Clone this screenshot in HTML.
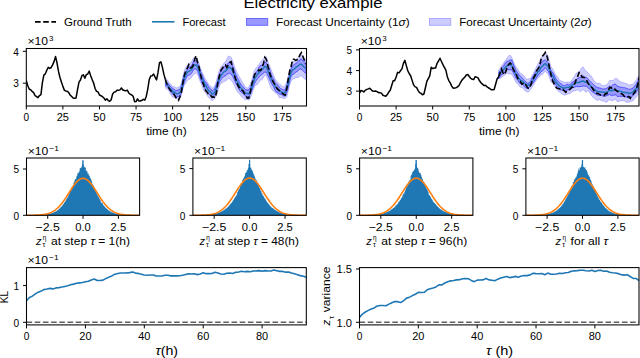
<!DOCTYPE html>
<html><head><meta charset="utf-8"><style>
html,body{margin:0;padding:0;background:#fff;width:640px;height:358px;overflow:hidden}
svg{display:block}
text{font-family:"Liberation Sans", sans-serif;fill:#000}
</style></head><body>
<svg width="640" height="358" viewBox="0 0 640 358">
<rect width="640" height="358" fill="#fff"/>
<text x="243.5" y="8.3" font-size="15" text-anchor="start" textLength="139" lengthAdjust="spacingAndGlyphs" >Electricity example</text>
<line x1="35" y1="21.9" x2="56" y2="21.9" stroke="#000" stroke-width="1.6" stroke-dasharray="5.6 2.6"/>
<text x="64" y="25.6" font-size="11" text-anchor="start" textLength="67.6" lengthAdjust="spacingAndGlyphs" >Ground Truth</text>
<line x1="152" y1="21.8" x2="174.5" y2="21.8" stroke="#1f77b4" stroke-width="1.6"/>
<text x="182.4" y="25.6" font-size="11" text-anchor="start" textLength="43.2" lengthAdjust="spacingAndGlyphs" >Forecast</text>
<rect x="246.5" y="18.5" width="21.2" height="6.8" fill="#9999ff" stroke="#6b6bff" stroke-width="1"/>
<text x="276" y="25.6" font-size="11" text-anchor="start" textLength="133.6" lengthAdjust="spacingAndGlyphs" >Forecast Uncertainty (1<tspan font-style="italic">σ</tspan>)</text>
<rect x="429.5" y="18.5" width="21.2" height="6.8" fill="#ccccff" stroke="#aaaaff" stroke-width="1"/>
<text x="459.2" y="25.6" font-size="11" text-anchor="start" textLength="132.4" lengthAdjust="spacingAndGlyphs" >Forecast Uncertainty (2<tspan font-style="italic">σ</tspan>)</text>
<defs><clipPath id="c26"><rect x="26.3" y="48.5" width="280.2" height="57.5"/></clipPath></defs>
<g clip-path="url(#c26)">
<polygon points="165.33,77.78 166.8,79.35 168.26,81.25 169.72,83.59 171.19,84.35 172.65,86.76 174.11,86.49 175.58,87.49 177.04,87.89 178.5,87.02 179.97,86.45 181.43,82.91 182.89,76.35 184.36,70.55 185.82,67.18 187.29,64.98 188.75,63.54 190.21,62.69 191.68,61.54 193.14,58.18 194.6,56.98 196.07,57.15 197.53,59.57 198.99,63.41 200.46,67.86 201.92,71.96 203.38,74.66 204.85,78.19 206.31,80.32 207.77,82.59 209.24,85.13 210.7,85.96 212.16,88.17 213.63,87.18 215.09,85.02 216.56,80.39 218.02,74.5 219.48,69.7 220.95,66.76 222.41,65.32 223.87,63.16 225.34,62.05 226.8,59.18 228.26,56.18 229.73,56.24 231.19,57.47 232.65,60.77 234.12,65.21 235.58,69.03 237.04,72.56 238.51,75.32 239.97,77.93 241.43,80.28 242.9,82.78 244.36,85.47 245.83,87.41 247.29,87.95 248.75,87.22 250.22,84.03 251.68,79.97 253.14,74.74 254.61,69.9 256.07,68.02 257.53,66.52 259,64.21 260.46,61.93 261.92,60.2 263.39,58.8 264.85,56.81 266.31,56.9 267.78,61.53 269.24,64.73 270.7,68.67 272.17,72.14 273.63,75.25 275.1,78.94 276.56,80.79 278.02,82.4 279.49,84.23 280.95,84.92 282.41,86.47 283.88,86.91 285.34,85.12 286.8,81.56 288.27,75.81 289.73,69.57 291.19,64.38 292.66,61.42 294.12,61.55 295.58,59.8 297.05,58.45 298.51,57.39 299.97,54.84 301.44,54.66 302.9,56.25 304.37,58.16 305.83,59.38 305.83,63.61 304.37,62.08 302.9,60.35 301.44,59.1 299.97,59.48 298.51,61.07 297.05,62.46 295.58,63.54 294.12,64.59 292.66,65.69 291.19,69 289.73,73.81 288.27,80.09 286.8,85.75 285.34,89.04 283.88,90.2 282.41,89.47 280.95,88.76 279.49,87.51 278.02,85.21 276.56,84.16 275.1,82.54 273.63,79.26 272.17,76.68 270.7,72.97 269.24,68.12 267.78,65.77 266.31,62.69 264.85,62.35 263.39,63.87 261.92,65.08 260.46,65.51 259,67.48 257.53,70.41 256.07,72.46 254.61,74.81 253.14,79.09 251.68,84.15 250.22,87.69 248.75,89.7 247.29,90.11 245.83,89.92 244.36,88.35 242.9,86.55 241.43,85.09 239.97,82.85 238.51,79.78 237.04,77.32 235.58,74.06 234.12,69.72 232.65,65.85 231.19,63.55 229.73,62.6 228.26,63 226.8,64.97 225.34,66.41 223.87,67.01 222.41,68.96 220.95,70.57 219.48,73.83 218.02,79.46 216.56,84.22 215.09,87.86 213.63,90 212.16,91.02 210.7,88.93 209.24,87.96 207.77,85.53 206.31,82.74 204.85,81.46 203.38,78.31 201.92,74.56 200.46,71.42 198.99,67.35 197.53,62.89 196.07,60.64 194.6,60.5 193.14,62.24 191.68,65.66 190.21,66.73 188.75,67.3 187.29,69.01 185.82,72.16 184.36,74.7 182.89,79.76 181.43,85.78 179.97,89.23 178.5,89.95 177.04,90.37 175.58,90.63 174.11,88.99 172.65,89.03 171.19,86.98 169.72,86.03 168.26,83.76 166.8,82.14 165.33,81.41" fill="#0000ff" fill-opacity="0.2" stroke="#0000ff" stroke-opacity="0.2" stroke-width="1"/>
<polygon points="165.33,85.54 166.8,86.15 168.26,87.73 169.72,90.57 171.19,92.32 172.65,94.27 174.11,93.93 175.58,96 177.04,96.7 178.5,96.47 179.97,95.67 181.43,92.87 182.89,87.27 184.36,82.1 185.82,78.61 187.29,75.82 188.75,75.12 190.21,74.52 191.68,73.22 193.14,70.29 194.6,69.11 196.07,68.94 197.53,70.82 198.99,74.55 200.46,79.03 201.92,82.78 203.38,85.44 204.85,88.6 206.31,90.37 207.77,92.59 209.24,94.63 210.7,95.6 212.16,97.6 213.63,96.24 215.09,94.37 216.56,90.37 218.02,85.88 219.48,82.13 220.95,79.35 222.41,78.03 223.87,76.55 225.34,75.7 226.8,74.5 228.26,73.58 229.73,73.24 231.19,74.02 232.65,76.32 234.12,79.14 235.58,82.84 237.04,85.39 238.51,88.19 239.97,91.13 241.43,92.3 242.9,93.47 244.36,94.9 245.83,96.14 247.29,96.64 248.75,96.84 250.22,94.48 251.68,90.96 253.14,86.97 254.61,83.27 256.07,80.78 257.53,78.78 259,77.06 260.46,75.52 261.92,74.33 263.39,73.2 264.85,72.04 266.31,72.28 267.78,75.26 269.24,78.22 270.7,81.83 272.17,84.45 273.63,86.77 275.1,90.31 276.56,92.18 278.02,92.63 279.49,94.27 280.95,94.21 282.41,94.79 283.88,96.42 285.34,95.4 286.8,92.3 288.27,87.37 289.73,80.81 291.19,76.32 292.66,74.44 294.12,73.8 295.58,72.19 297.05,71.49 298.51,70.28 299.97,68.76 301.44,69.43 302.9,70.63 304.37,72.17 305.83,73.66 305.83,79.76 304.37,78.66 302.9,77.45 301.44,75.68 299.97,76 298.51,77.42 297.05,77.44 295.58,77.93 294.12,78.85 292.66,78.94 291.19,81.17 289.73,84.78 288.27,91.3 286.8,96.89 285.34,98.33 283.88,98.61 282.41,97.96 280.95,97.48 279.49,97.88 278.02,95.33 276.56,93.3 275.1,92.81 273.63,91.35 272.17,89.66 270.7,87.52 269.24,83.5 267.78,79.55 266.31,75.72 264.85,74.94 263.39,77.63 261.92,79.86 260.46,80.09 259,82.32 257.53,84.44 256.07,84.92 254.61,86.47 253.14,90.24 251.68,94.79 250.22,98.49 248.75,100.22 247.29,99.45 245.83,99.85 244.36,99.24 242.9,97.68 241.43,96.42 239.97,94.62 238.51,92.9 237.04,91.2 235.58,88.25 234.12,84.69 232.65,82.2 231.19,80.31 229.73,78.99 228.26,78.48 226.8,80.11 225.34,81.19 223.87,81.58 222.41,82.76 220.95,83.2 219.48,86.18 218.02,90.61 216.56,95.06 215.09,98.43 213.63,99.6 212.16,100.87 210.7,98.92 209.24,97.89 207.77,96.56 206.31,93.83 204.85,91.89 203.38,89.63 201.92,85.84 200.46,82.12 198.99,78.81 197.53,74.31 196.07,72.95 194.6,74 193.14,74.67 191.68,77.51 190.21,78.91 188.75,79.43 187.29,80.62 185.82,83.28 184.36,84.88 182.89,88.83 181.43,95.34 179.97,98.52 178.5,99.05 177.04,99.11 175.58,98.54 174.11,97.15 172.65,97.28 171.19,95.19 169.72,92.62 168.26,89.87 166.8,89.04 165.33,88.16" fill="#0000ff" fill-opacity="0.2" stroke="#0000ff" stroke-opacity="0.2" stroke-width="1"/>
<polygon points="165.33,81.41 166.8,82.14 168.26,83.76 169.72,86.03 171.19,86.98 172.65,89.03 174.11,88.99 175.58,90.63 177.04,90.37 178.5,89.95 179.97,89.23 181.43,85.78 182.89,79.76 184.36,74.7 185.82,72.16 187.29,69.01 188.75,67.3 190.21,66.73 191.68,65.66 193.14,62.24 194.6,60.5 196.07,60.64 197.53,62.89 198.99,67.35 200.46,71.42 201.92,74.56 203.38,78.31 204.85,81.46 206.31,82.74 207.77,85.53 209.24,87.96 210.7,88.93 212.16,91.02 213.63,90 215.09,87.86 216.56,84.22 218.02,79.46 219.48,73.83 220.95,70.57 222.41,68.96 223.87,67.01 225.34,66.41 226.8,64.97 228.26,63 229.73,62.6 231.19,63.55 232.65,65.85 234.12,69.72 235.58,74.06 237.04,77.32 238.51,79.78 239.97,82.85 241.43,85.09 242.9,86.55 244.36,88.35 245.83,89.92 247.29,90.11 248.75,89.7 250.22,87.69 251.68,84.15 253.14,79.09 254.61,74.81 256.07,72.46 257.53,70.41 259,67.48 260.46,65.51 261.92,65.08 263.39,63.87 264.85,62.35 266.31,62.69 267.78,65.77 269.24,68.12 270.7,72.97 272.17,76.68 273.63,79.26 275.1,82.54 276.56,84.16 278.02,85.21 279.49,87.51 280.95,88.76 282.41,89.47 283.88,90.2 285.34,89.04 286.8,85.75 288.27,80.09 289.73,73.81 291.19,69 292.66,65.69 294.12,64.59 295.58,63.54 297.05,62.46 298.51,61.07 299.97,59.48 301.44,59.1 302.9,60.35 304.37,62.08 305.83,63.61 305.83,73.66 304.37,72.17 302.9,70.63 301.44,69.43 299.97,68.76 298.51,70.28 297.05,71.49 295.58,72.19 294.12,73.8 292.66,74.44 291.19,76.32 289.73,80.81 288.27,87.37 286.8,92.3 285.34,95.4 283.88,96.42 282.41,94.79 280.95,94.21 279.49,94.27 278.02,92.63 276.56,92.18 275.1,90.31 273.63,86.77 272.17,84.45 270.7,81.83 269.24,78.22 267.78,75.26 266.31,72.28 264.85,72.04 263.39,73.2 261.92,74.33 260.46,75.52 259,77.06 257.53,78.78 256.07,80.78 254.61,83.27 253.14,86.97 251.68,90.96 250.22,94.48 248.75,96.84 247.29,96.64 245.83,96.14 244.36,94.9 242.9,93.47 241.43,92.3 239.97,91.13 238.51,88.19 237.04,85.39 235.58,82.84 234.12,79.14 232.65,76.32 231.19,74.02 229.73,73.24 228.26,73.58 226.8,74.5 225.34,75.7 223.87,76.55 222.41,78.03 220.95,79.35 219.48,82.13 218.02,85.88 216.56,90.37 215.09,94.37 213.63,96.24 212.16,97.6 210.7,95.6 209.24,94.63 207.77,92.59 206.31,90.37 204.85,88.6 203.38,85.44 201.92,82.78 200.46,79.03 198.99,74.55 197.53,70.82 196.07,68.94 194.6,69.11 193.14,70.29 191.68,73.22 190.21,74.52 188.75,75.12 187.29,75.82 185.82,78.61 184.36,82.1 182.89,87.27 181.43,92.87 179.97,95.67 178.5,96.47 177.04,96.7 175.58,96 174.11,93.93 172.65,94.27 171.19,92.32 169.72,90.57 168.26,87.73 166.8,86.15 165.33,85.54" fill="#0000ff" fill-opacity="0.4" stroke="#0000ff" stroke-opacity="0.4" stroke-width="1"/>
<polyline points="165.33,83.23 166.8,84.25 168.26,86 169.72,88.44 171.19,89.51 172.65,91.91 174.11,91.73 175.58,93.22 177.04,93.81 178.5,93.45 179.97,92.54 181.43,89.11 182.89,83.39 184.36,78.4 185.82,74.78 187.29,72.17 188.75,71.35 190.21,70.58 191.68,69.59 193.14,66.57 194.6,65.21 196.07,64.81 197.53,66.72 198.99,70.82 200.46,74.99 201.92,78.43 203.38,81.21 204.85,84.53 206.31,86.7 207.77,89.24 209.24,91.4 210.7,92.08 212.16,94.06 213.63,93.37 215.09,91.37 216.56,87.12 218.02,82.34 219.48,78.3 220.95,75.63 222.41,73.77 223.87,71.81 225.34,71.21 226.8,69.63 228.26,67.57 229.73,67.61 231.19,68.61 232.65,70.92 234.12,74.54 235.58,78.33 237.04,81.33 238.51,83.98 239.97,86.65 241.43,88.54 242.9,90.12 244.36,91.96 245.83,93.43 247.29,93.45 248.75,93.79 250.22,91.58 251.68,87.39 253.14,82.83 254.61,78.64 256.07,76.32 257.53,74.65 259,72.57 260.46,70.84 261.92,69.75 263.39,68.17 264.85,66.42 266.31,66.83 267.78,70.47 269.24,73.54 270.7,77.77 272.17,80.73 273.63,83.03 275.1,86.15 276.56,87.77 278.02,88.97 279.49,91.03 280.95,91.82 282.41,92.37 283.88,92.92 285.34,92.06 286.8,89.01 288.27,83.51 289.73,77.32 291.19,72.58 292.66,69.78 294.12,69.13 295.58,67.7 297.05,66.68 298.51,65.66 299.97,64.13 301.44,64.14 302.9,65.68 304.37,67.24 305.83,68.52" fill="none" stroke="#1f77b4" stroke-width="1.5"/>
<polyline points="26.3,80.43 27.76,85.74 29.23,89.01 30.69,89.82 32.15,91.41 33.62,92.57 35.08,95.61 36.54,96.54 38.01,97.63 39.47,95.54 40.94,94.54 42.4,82.64 43.86,75.06 45.33,73.83 46.79,70.24 48.25,67.31 49.72,68.4 51.18,67.49 52.64,64.88 54.11,61.36 55.57,56.58 57.03,63.03 58.5,71.39 59.96,77.52 61.42,82.05 62.89,86.38 64.35,90.14 65.81,91.09 67.28,91.16 68.74,92.6 70.2,95.18 71.67,96.48 73.13,97.99 74.6,98.29 76.06,97.99 77.52,89.72 78.99,82.11 80.45,80.06 81.91,75.74 83.38,74.78 84.84,78.3 86.3,74.63 87.77,74.03 89.23,71.12 90.69,75.66 92.16,79.61 93.62,83.01 95.08,88.48 96.55,91.35 98.01,91.9 99.47,95.01 100.94,95.72 102.4,96.64 103.87,97.95 105.33,100.13 106.79,98.73 108.26,100.58 109.72,101.28 111.18,99.75 112.65,93.93 114.11,92.11 115.57,91.74 117.04,90.3 118.5,90.26 119.96,89.85 121.43,87.96 122.89,90.02 124.35,90.42 125.82,90.87 127.28,90.11 128.75,92.94 130.21,94.23 131.67,94.87 133.14,96.26 134.6,101.64 136.06,101.56 137.53,98.85 138.99,101.06 140.45,101 141.92,100.29 143.38,99.32 144.84,100.1 146.31,96.19 147.77,89.09 149.23,79.65 150.7,76.07 152.16,75.78 153.62,73.98 155.09,77.1 156.55,79.92 158.02,72.41 159.48,62.74 160.94,61.87 162.41,67.34 163.87,74.16 165.33,79.52" fill="none" stroke="#000" stroke-width="1.5" stroke-linejoin="round"/>
<polyline points="165.33,79.52 166.8,83.53 168.26,87.24 169.72,89.37 171.19,91.25 172.65,92.35 174.11,94.61 175.58,97.03 177.04,98.97 178.5,100.32 179.97,96.84 181.43,91.91 182.89,82.94 184.36,75.23 185.82,70.8 187.29,68.06 188.75,64.64 190.21,67.79 191.68,67.48 193.14,65.59 194.6,59.44 196.07,55.83 197.53,62.19 198.99,66.63 200.46,74.19 201.92,80.15 203.38,84.05 204.85,89.47 206.31,91.25 207.77,93.12 209.24,95.08 210.7,95.46 212.16,97.32 213.63,96.95 215.09,97.72 216.56,92.25 218.02,80.78 219.48,75.81 220.95,70.37 222.41,68.32 223.87,65.83 225.34,64.96 226.8,67.41 228.26,65.19 229.73,62.37 231.19,61.66 232.65,68.07 234.12,74.16 235.58,78.94 237.04,83.3 238.51,86.47 239.97,88.88 241.43,90.4 242.9,90.75 244.36,93.68 245.83,95.65 247.29,98.21 248.75,98.23 250.22,92.66 251.68,84.24 253.14,79.68 254.61,74.35 256.07,72.9 257.53,71.71 259,69.97 260.46,70.46 261.92,68.21 263.39,63.79 264.85,57.39 266.31,59.24 267.78,65.62 269.24,71.57 270.7,76.19 272.17,79.37 273.63,82.74 275.1,84.63 276.56,87.78 278.02,89.54 279.49,90.62 280.95,92.09 282.41,93.38 283.88,94.44 285.34,95.08 286.8,88.11 288.27,78.59 289.73,70.74 291.19,66.21 292.66,59.23 294.12,59.19 295.58,60.42 297.05,59.79 298.51,58.3 299.97,54.74 301.44,52.64 302.9,56.51 304.37,60.23 305.83,64.14" fill="none" stroke="#000" stroke-width="1.6" stroke-dasharray="5.6 2.6"/>
</g>
<rect x="26.3" y="48.5" width="280.2" height="57.5" fill="none" stroke="#000" stroke-width="1.05"/>
<line x1="26.3" y1="106" x2="26.3" y2="109.5" stroke="#000" stroke-width="1"/>
<text x="26.3" y="120.8" font-size="11" text-anchor="middle" textLength="5.62" lengthAdjust="spacingAndGlyphs" >0</text>
<line x1="62.89" y1="106" x2="62.89" y2="109.5" stroke="#000" stroke-width="1"/>
<text x="62.89" y="120.8" font-size="11" text-anchor="middle" textLength="12.23" lengthAdjust="spacingAndGlyphs" >25</text>
<line x1="99.47" y1="106" x2="99.47" y2="109.5" stroke="#000" stroke-width="1"/>
<text x="99.47" y="120.8" font-size="11" text-anchor="middle" textLength="12.23" lengthAdjust="spacingAndGlyphs" >50</text>
<line x1="136.06" y1="106" x2="136.06" y2="109.5" stroke="#000" stroke-width="1"/>
<text x="136.06" y="120.8" font-size="11" text-anchor="middle" textLength="12.23" lengthAdjust="spacingAndGlyphs" >75</text>
<line x1="172.65" y1="106" x2="172.65" y2="109.5" stroke="#000" stroke-width="1"/>
<text x="172.65" y="120.8" font-size="11" text-anchor="middle" textLength="18.85" lengthAdjust="spacingAndGlyphs" >100</text>
<line x1="209.24" y1="106" x2="209.24" y2="109.5" stroke="#000" stroke-width="1"/>
<text x="209.24" y="120.8" font-size="11" text-anchor="middle" textLength="18.85" lengthAdjust="spacingAndGlyphs" >125</text>
<line x1="245.83" y1="106" x2="245.83" y2="109.5" stroke="#000" stroke-width="1"/>
<text x="245.83" y="120.8" font-size="11" text-anchor="middle" textLength="18.85" lengthAdjust="spacingAndGlyphs" >150</text>
<line x1="282.41" y1="106" x2="282.41" y2="109.5" stroke="#000" stroke-width="1"/>
<text x="282.41" y="120.8" font-size="11" text-anchor="middle" textLength="18.85" lengthAdjust="spacingAndGlyphs" >175</text>
<line x1="22.8" y1="51.3" x2="26.3" y2="51.3" stroke="#000" stroke-width="1"/>
<text x="18.8" y="55.5" font-size="11" text-anchor="end" textLength="5.62" lengthAdjust="spacingAndGlyphs" >4</text>
<line x1="22.8" y1="83.2" x2="26.3" y2="83.2" stroke="#000" stroke-width="1"/>
<text x="18.8" y="87.4" font-size="11" text-anchor="end" textLength="5.62" lengthAdjust="spacingAndGlyphs" >3</text>
<text x="27.5" y="45" font-size="11" text-anchor="start" textLength="20.6" lengthAdjust="spacingAndGlyphs" >×10</text>
<text x="49.1" y="40.9" font-size="7.8" text-anchor="start" textLength="4.4" lengthAdjust="spacingAndGlyphs" >3</text>
<text x="166.4" y="135.1" font-size="11" text-anchor="middle" textLength="40.51" lengthAdjust="spacingAndGlyphs" >time (h)</text>
<defs><clipPath id="c359"><rect x="359.5" y="48.5" width="279.5" height="57.5"/></clipPath></defs>
<g clip-path="url(#c359)">
<polygon points="498.53,70.57 500,68.53 501.46,65.58 502.92,64.2 504.39,61.55 505.85,59.68 507.31,57.47 508.78,55.64 510.24,55.15 511.7,57 513.17,60.9 514.63,64.26 516.09,67.3 517.56,68.58 519.02,71.37 520.49,73.79 521.95,74.17 523.41,75.05 524.88,77.28 526.34,79.26 527.8,78.96 529.27,78.66 530.73,78.29 532.19,75.21 533.66,72.54 535.12,69.64 536.58,66.52 538.05,63.49 539.51,61.91 540.97,57.81 542.44,56.14 543.9,54.71 545.36,52.79 546.83,54.09 548.29,56.39 549.75,62.48 551.22,67.13 552.68,68.63 554.15,71.65 555.61,74.74 557.07,76.31 558.54,78.32 560,80.76 561.46,80.95 562.93,81.64 564.39,82.36 565.85,82.28 567.32,82.12 568.78,82.24 570.24,81.9 571.71,80.22 573.17,78.36 574.63,75.79 576.1,73.21 577.56,72.71 579.02,71.97 580.49,69.87 581.95,67.48 583.42,67.17 584.88,69.68 586.34,71.38 587.81,72.44 589.27,73.93 590.73,75.53 592.2,77.47 593.66,80.17 595.12,81.94 596.59,83 598.05,83.2 599.51,83.15 600.98,84.23 602.44,85.86 603.9,85.39 605.37,85.18 606.83,84.75 608.3,82.64 609.76,80.35 611.22,80.56 612.69,80.49 614.15,79.68 615.61,77.97 617.08,78.73 618.54,79.89 620,81.7 621.47,81.97 622.93,82.58 624.39,82.88 625.86,83.47 627.32,83.86 628.78,85.12 630.25,84.87 631.71,84.57 633.17,84.41 634.64,81.81 636.1,80.4 637.57,77.64 639.03,75.13 639.03,79.44 637.57,81.45 636.1,84.59 634.64,85.87 633.17,88.12 631.71,88.66 630.25,89.15 628.78,89.46 627.32,88.44 625.86,88.18 624.39,87.64 622.93,87.73 621.47,87.24 620,87.03 618.54,86.66 617.08,86.19 615.61,84.09 614.15,84.26 612.69,85.02 611.22,86.42 609.76,86.06 608.3,87.02 606.83,88.22 605.37,88.8 603.9,88.91 602.44,88.99 600.98,88.35 599.51,87.9 598.05,87.79 596.59,87.11 595.12,85.91 593.66,84.69 592.2,83.17 590.73,81.97 589.27,80.45 587.81,78.74 586.34,77.42 584.88,77.25 583.42,76.06 581.95,76.16 580.49,77.27 579.02,77.92 577.56,78.4 576.1,79.58 574.63,80.79 573.17,81.74 571.71,82.66 570.24,84.38 568.78,84.95 567.32,84.33 565.85,85 564.39,85.67 562.93,85.26 561.46,84.13 560,83.14 558.54,81.61 557.07,80.25 555.61,78.24 554.15,74.99 552.68,72.34 551.22,70.94 549.75,67.38 548.29,62.88 546.83,61.28 545.36,59.89 543.9,60.47 542.44,61.19 540.97,63.06 539.51,66.59 538.05,67.7 536.58,70.52 535.12,72.66 533.66,75.31 532.19,77.69 530.73,80.53 529.27,82.71 527.8,83.36 526.34,82.25 524.88,80.82 523.41,79.23 521.95,77.57 520.49,76.41 519.02,74.79 517.56,72.56 516.09,70.55 514.63,67.16 513.17,63.73 511.7,60 510.24,59.72 508.78,61 507.31,61.24 505.85,62.37 504.39,64.41 502.92,67.13 501.46,68.43 500,70.96 498.53,72.79" fill="#0000ff" fill-opacity="0.2" stroke="#0000ff" stroke-opacity="0.2" stroke-width="1"/>
<polygon points="498.53,78.59 500,76.91 501.46,74.65 502.92,74.17 504.39,72.37 505.85,71 507.31,69.8 508.78,69.68 510.24,69.71 511.7,69.91 513.17,72.43 514.63,75.38 516.09,78.44 517.56,79.72 519.02,82.37 520.49,83.95 521.95,83.74 523.41,85.28 524.88,87.36 526.34,88.17 527.8,88.31 529.27,87.43 530.73,85.91 532.19,83.91 533.66,82.24 535.12,79.91 536.58,77.79 538.05,75.16 539.51,74.05 540.97,71.66 542.44,71.07 543.9,69.26 545.36,67.82 546.83,69.56 548.29,71.19 549.75,74.82 551.22,77.43 552.68,78.66 554.15,81.72 555.61,84.93 557.07,86.31 558.54,87.86 560,89.65 561.46,90.05 562.93,90.49 564.39,90.33 565.85,90.56 567.32,89.98 568.78,89.75 570.24,89.91 571.71,88.31 573.17,87.54 574.63,87.09 576.1,86.52 577.56,86.67 579.02,86.63 580.49,86.54 581.95,86.33 583.42,85.92 584.88,86.35 586.34,86.15 587.81,87.43 589.27,88.94 590.73,90.32 592.2,91.61 593.66,92.75 595.12,93.59 596.59,94.64 598.05,95.17 599.51,95.35 600.98,95.35 602.44,95.79 603.9,96.23 605.37,96.18 606.83,95.63 608.3,95.08 609.76,94.46 611.22,95.51 612.69,95.25 614.15,95.13 615.61,94.69 617.08,96.39 618.54,96.46 620,96.22 621.47,96.41 622.93,96.35 624.39,96.19 625.86,97.05 627.32,97.33 628.78,97.99 630.25,97.26 631.71,96.56 633.17,95.77 634.64,93.63 636.1,92.69 637.57,89.68 639.03,87.51 639.03,93.51 637.57,94.72 636.1,97.42 634.64,98.61 633.17,100.75 631.71,101.3 630.25,101.47 628.78,102.34 627.32,102.3 625.86,102.19 624.39,100.8 622.93,100.72 621.47,100.71 620,100.93 618.54,101.73 617.08,101.53 615.61,99.2 614.15,100 612.69,100.48 611.22,100.67 609.76,99.63 608.3,100.52 606.83,102.26 605.37,102.05 603.9,100.74 602.44,100.95 600.98,100.32 599.51,99.66 598.05,100.3 596.59,100.2 595.12,99.01 593.66,97.68 592.2,96.58 590.73,94.67 589.27,91.64 587.81,90.86 586.34,91.96 584.88,91.51 583.42,89.34 581.95,90.61 580.49,91.64 579.02,90.77 577.56,89.59 576.1,90.67 574.63,90.94 573.17,90.89 571.71,92.24 570.24,93.23 568.78,93.93 567.32,94.33 565.85,94.79 564.39,95.18 562.93,94.55 561.46,93.46 560,92.56 558.54,91.47 557.07,89.69 555.61,87.81 554.15,85.62 552.68,83.12 551.22,82.36 549.75,78.9 548.29,74.34 546.83,73.22 545.36,71.27 543.9,72.4 542.44,74.59 540.97,74.66 539.51,77.02 538.05,78.01 536.58,80 535.12,82.01 533.66,84.71 532.19,87.05 530.73,89.32 529.27,91.33 527.8,92.15 526.34,91.6 524.88,90.67 523.41,88.37 521.95,87.56 520.49,87.33 519.02,85.77 517.56,83.58 516.09,82.58 514.63,79.45 513.17,76.64 511.7,74.4 510.24,73.65 508.78,73.88 507.31,73.36 505.85,74.11 504.39,75.42 502.92,76.34 501.46,77.3 500,78.67 498.53,78.6" fill="#0000ff" fill-opacity="0.2" stroke="#0000ff" stroke-opacity="0.2" stroke-width="1"/>
<polygon points="498.53,72.79 500,70.96 501.46,68.43 502.92,67.13 504.39,64.41 505.85,62.37 507.31,61.24 508.78,61 510.24,59.72 511.7,60 513.17,63.73 514.63,67.16 516.09,70.55 517.56,72.56 519.02,74.79 520.49,76.41 521.95,77.57 523.41,79.23 524.88,80.82 526.34,82.25 527.8,83.36 529.27,82.71 530.73,80.53 532.19,77.69 533.66,75.31 535.12,72.66 536.58,70.52 538.05,67.7 539.51,66.59 540.97,63.06 542.44,61.19 543.9,60.47 545.36,59.89 546.83,61.28 548.29,62.88 549.75,67.38 551.22,70.94 552.68,72.34 554.15,74.99 555.61,78.24 557.07,80.25 558.54,81.61 560,83.14 561.46,84.13 562.93,85.26 564.39,85.67 565.85,85 567.32,84.33 568.78,84.95 570.24,84.38 571.71,82.66 573.17,81.74 574.63,80.79 576.1,79.58 577.56,78.4 579.02,77.92 580.49,77.27 581.95,76.16 583.42,76.06 584.88,77.25 586.34,77.42 587.81,78.74 589.27,80.45 590.73,81.97 592.2,83.17 593.66,84.69 595.12,85.91 596.59,87.11 598.05,87.79 599.51,87.9 600.98,88.35 602.44,88.99 603.9,88.91 605.37,88.8 606.83,88.22 608.3,87.02 609.76,86.06 611.22,86.42 612.69,85.02 614.15,84.26 615.61,84.09 617.08,86.19 618.54,86.66 620,87.03 621.47,87.24 622.93,87.73 624.39,87.64 625.86,88.18 627.32,88.44 628.78,89.46 630.25,89.15 631.71,88.66 633.17,88.12 634.64,85.87 636.1,84.59 637.57,81.45 639.03,79.44 639.03,87.51 637.57,89.68 636.1,92.69 634.64,93.63 633.17,95.77 631.71,96.56 630.25,97.26 628.78,97.99 627.32,97.33 625.86,97.05 624.39,96.19 622.93,96.35 621.47,96.41 620,96.22 618.54,96.46 617.08,96.39 615.61,94.69 614.15,95.13 612.69,95.25 611.22,95.51 609.76,94.46 608.3,95.08 606.83,95.63 605.37,96.18 603.9,96.23 602.44,95.79 600.98,95.35 599.51,95.35 598.05,95.17 596.59,94.64 595.12,93.59 593.66,92.75 592.2,91.61 590.73,90.32 589.27,88.94 587.81,87.43 586.34,86.15 584.88,86.35 583.42,85.92 581.95,86.33 580.49,86.54 579.02,86.63 577.56,86.67 576.1,86.52 574.63,87.09 573.17,87.54 571.71,88.31 570.24,89.91 568.78,89.75 567.32,89.98 565.85,90.56 564.39,90.33 562.93,90.49 561.46,90.05 560,89.65 558.54,87.86 557.07,86.31 555.61,84.93 554.15,81.72 552.68,78.66 551.22,77.43 549.75,74.82 548.29,71.19 546.83,69.56 545.36,67.82 543.9,69.26 542.44,71.07 540.97,71.66 539.51,74.05 538.05,75.16 536.58,77.79 535.12,79.91 533.66,82.24 532.19,83.91 530.73,85.91 529.27,87.43 527.8,88.31 526.34,88.17 524.88,87.36 523.41,85.28 521.95,83.74 520.49,83.95 519.02,82.37 517.56,79.72 516.09,78.44 514.63,75.38 513.17,72.43 511.7,69.91 510.24,69.71 508.78,69.68 507.31,69.8 505.85,71 504.39,72.37 502.92,74.17 501.46,74.65 500,76.91 498.53,78.59" fill="#0000ff" fill-opacity="0.4" stroke="#0000ff" stroke-opacity="0.4" stroke-width="1"/>
<polyline points="498.53,75.25 500,73.88 501.46,71.45 502.92,70.38 504.39,68.4 505.85,66.71 507.31,65.63 508.78,65.31 510.24,64.45 511.7,65.11 513.17,68.23 514.63,71.36 516.09,74.52 517.56,76.09 519.02,78.61 520.49,80.19 521.95,80.92 523.41,82.06 524.88,83.66 526.34,84.93 527.8,85.32 529.27,84.81 530.73,83.46 532.19,81.01 533.66,78.87 535.12,76.31 536.58,74.18 538.05,71.72 539.51,70.5 540.97,67.5 542.44,66.3 543.9,64.64 545.36,63.57 546.83,65.13 548.29,66.66 549.75,70.64 551.22,73.98 552.68,75.64 554.15,78.61 555.61,81.79 557.07,83.56 558.54,84.97 560,86.38 561.46,87.09 562.93,88.02 564.39,88.08 565.85,87.68 567.32,87.37 568.78,87.3 570.24,86.78 571.71,85.33 573.17,84.33 574.63,83.57 576.1,82.68 577.56,82.4 579.02,82.39 580.49,81.71 581.95,81.13 583.42,80.98 584.88,82 586.34,82.38 587.81,83.25 589.27,84.45 590.73,86.13 592.2,87.5 593.66,88.94 595.12,89.97 596.59,91.09 598.05,91.64 599.51,91.7 600.98,91.99 602.44,92.35 603.9,92.22 605.37,92.42 606.83,92.29 608.3,91.01 609.76,90.15 611.22,90.83 612.69,90.2 614.15,90.3 615.61,89.63 617.08,90.95 618.54,91.05 620,91.22 621.47,91.61 622.93,92.17 624.39,92.4 625.86,92.61 627.32,92.57 628.78,93.57 630.25,92.97 631.71,92.54 633.17,91.83 634.64,89.77 636.1,88.81 637.57,85.76 639.03,83.75" fill="none" stroke="#1f77b4" stroke-width="1.5"/>
<polyline points="359.5,93 360.96,90.5 362.43,90.91 363.89,92.01 365.35,90.1 366.82,89.35 368.28,88.88 369.74,88.2 371.21,89.68 372.67,91.1 374.13,91.24 375.6,91.03 377.06,91.59 378.53,92.69 379.99,92.59 381.45,93.09 382.92,95.22 384.38,95.76 385.84,96.23 387.31,94.59 388.77,92.07 390.23,90.2 391.7,85.57 393.16,80.83 394.62,80.64 396.09,77.3 397.55,72.36 399.01,72.86 400.48,70.72 401.94,68.87 403.4,63.4 404.87,60.32 406.33,65.59 407.8,70.76 409.26,73.71 410.72,75.97 412.19,80.62 413.65,84.9 415.11,86.86 416.58,87.37 418.04,90.36 419.5,92.66 420.97,93.29 422.43,94.79 423.89,94.03 425.36,88.01 426.82,81.43 428.28,78.69 429.75,75.86 431.21,67.28 432.68,68.59 434.14,67.96 435.6,68.02 437.07,63.3 438.53,60.99 439.99,58.27 441.46,61.45 442.92,64.64 444.38,67.44 445.85,70.13 447.31,76.7 448.77,80.59 450.24,82.83 451.7,86.07 453.16,88.18 454.63,88.1 456.09,87.7 457.55,86.9 459.02,85.51 460.48,82.52 461.94,80.13 463.41,78.59 464.87,77.03 466.34,75.06 467.8,74.45 469.26,76.54 470.73,78.24 472.19,79.3 473.65,79.6 475.12,76.74 476.58,77.15 478.04,77.96 479.51,80.8 480.97,82.67 482.43,84.11 483.9,85.54 485.36,85.24 486.82,86.64 488.29,87.75 489.75,88.5 491.22,89.65 492.68,89.83 494.14,89.48 495.61,84.22 497.07,79.06 498.53,77.01" fill="none" stroke="#000" stroke-width="1.5" stroke-linejoin="round"/>
<polyline points="498.53,77.01 500,73.21 501.46,69.07 502.92,72.6 504.39,74.73 505.85,71.5 507.31,66.38 508.78,64.24 510.24,62.95 511.7,64.93 513.17,69.26 514.63,71.78 516.09,73.63 517.56,78.21 519.02,80.5 520.49,81.71 521.95,84.1 523.41,83.29 524.88,82.94 526.34,85.86 527.8,87.85 529.27,88.58 530.73,85.15 532.19,80.71 533.66,77.72 535.12,75.27 536.58,70.74 538.05,68.92 539.51,66.26 540.97,59.65 542.44,56.19 543.9,54.5 545.36,52.43 546.83,55.65 548.29,61.44 549.75,68.69 551.22,75.63 552.68,81.12 554.15,83.88 555.61,86.71 557.07,88.24 558.54,88.51 560,89.09 561.46,89.81 562.93,89.42 564.39,90.96 565.85,92.3 567.32,90.48 568.78,89.77 570.24,89.01 571.71,87.22 573.17,87.03 574.63,83.94 576.1,79.88 577.56,76.75 579.02,72.53 580.49,72.99 581.95,77.17 583.42,77.18 584.88,77.89 586.34,79.75 587.81,82.68 589.27,85.14 590.73,86.64 592.2,87.88 593.66,90.24 595.12,92.46 596.59,93.42 598.05,93.54 599.51,94.33 600.98,95.44 602.44,95.29 603.9,95.59 605.37,93.86 606.83,93.7 608.3,90.24 609.76,87.38 611.22,87.82 612.69,88.93 614.15,88.15 615.61,90.05 617.08,90.99 618.54,92.37 620,92.87 621.47,93.71 622.93,94.7 624.39,96.47 625.86,97.36 627.32,96.74 628.78,96.54 630.25,98.35 631.71,95.57 633.17,94.27 634.64,92.65 636.1,89.57 637.57,85.07 639.03,77.69" fill="none" stroke="#000" stroke-width="1.6" stroke-dasharray="5.6 2.6"/>
</g>
<rect x="359.5" y="48.5" width="279.5" height="57.5" fill="none" stroke="#000" stroke-width="1.05"/>
<line x1="359.5" y1="106" x2="359.5" y2="109.5" stroke="#000" stroke-width="1"/>
<text x="359.5" y="120.8" font-size="11" text-anchor="middle" textLength="5.62" lengthAdjust="spacingAndGlyphs" >0</text>
<line x1="396.09" y1="106" x2="396.09" y2="109.5" stroke="#000" stroke-width="1"/>
<text x="396.09" y="120.8" font-size="11" text-anchor="middle" textLength="12.23" lengthAdjust="spacingAndGlyphs" >25</text>
<line x1="432.68" y1="106" x2="432.68" y2="109.5" stroke="#000" stroke-width="1"/>
<text x="432.68" y="120.8" font-size="11" text-anchor="middle" textLength="12.23" lengthAdjust="spacingAndGlyphs" >50</text>
<line x1="469.26" y1="106" x2="469.26" y2="109.5" stroke="#000" stroke-width="1"/>
<text x="469.26" y="120.8" font-size="11" text-anchor="middle" textLength="12.23" lengthAdjust="spacingAndGlyphs" >75</text>
<line x1="505.85" y1="106" x2="505.85" y2="109.5" stroke="#000" stroke-width="1"/>
<text x="505.85" y="120.8" font-size="11" text-anchor="middle" textLength="18.85" lengthAdjust="spacingAndGlyphs" >100</text>
<line x1="542.44" y1="106" x2="542.44" y2="109.5" stroke="#000" stroke-width="1"/>
<text x="542.44" y="120.8" font-size="11" text-anchor="middle" textLength="18.85" lengthAdjust="spacingAndGlyphs" >125</text>
<line x1="579.02" y1="106" x2="579.02" y2="109.5" stroke="#000" stroke-width="1"/>
<text x="579.02" y="120.8" font-size="11" text-anchor="middle" textLength="18.85" lengthAdjust="spacingAndGlyphs" >150</text>
<line x1="615.61" y1="106" x2="615.61" y2="109.5" stroke="#000" stroke-width="1"/>
<text x="615.61" y="120.8" font-size="11" text-anchor="middle" textLength="18.85" lengthAdjust="spacingAndGlyphs" >175</text>
<line x1="356" y1="49.9" x2="359.5" y2="49.9" stroke="#000" stroke-width="1"/>
<text x="352" y="54.1" font-size="11" text-anchor="end" textLength="5.62" lengthAdjust="spacingAndGlyphs" >5</text>
<line x1="356" y1="70.6" x2="359.5" y2="70.6" stroke="#000" stroke-width="1"/>
<text x="352" y="74.8" font-size="11" text-anchor="end" textLength="5.62" lengthAdjust="spacingAndGlyphs" >4</text>
<line x1="356" y1="91.1" x2="359.5" y2="91.1" stroke="#000" stroke-width="1"/>
<text x="352" y="95.3" font-size="11" text-anchor="end" textLength="5.62" lengthAdjust="spacingAndGlyphs" >3</text>
<text x="360.7" y="45" font-size="11" text-anchor="start" textLength="20.6" lengthAdjust="spacingAndGlyphs" >×10</text>
<text x="382.3" y="40.9" font-size="7.8" text-anchor="start" textLength="4.4" lengthAdjust="spacingAndGlyphs" >3</text>
<text x="499.25" y="135.1" font-size="11" text-anchor="middle" textLength="40.51" lengthAdjust="spacingAndGlyphs" >time (h)</text>
<polygon points="32.16,215.3 32.16,215.18 32.72,215.18 32.72,215.17 33.29,215.17 33.29,215.17 33.85,215.17 33.85,215.16 34.42,215.16 34.42,215.14 34.98,215.14 34.98,215.13 35.55,215.13 35.55,215.12 36.11,215.12 36.11,215.11 36.68,215.11 36.68,215.09 37.24,215.09 37.24,215.08 37.81,215.08 37.81,215.06 38.38,215.06 38.38,215.04 38.94,215.04 38.94,215.02 39.51,215.02 39.51,214.99 40.07,214.99 40.07,214.97 40.64,214.97 40.64,214.93 41.2,214.93 41.2,214.9 41.77,214.9 41.77,214.87 42.33,214.87 42.33,214.83 42.9,214.83 42.9,214.78 43.47,214.78 43.47,214.73 44.03,214.73 44.03,214.68 44.6,214.68 44.6,214.6 45.16,214.6 45.16,214.54 45.73,214.54 45.73,214.52 46.29,214.52 46.29,214.43 46.86,214.43 46.86,214.32 47.42,214.32 47.42,214.23 47.99,214.23 47.99,214.11 48.55,214.11 48.55,213.99 49.12,213.99 49.12,213.82 49.69,213.82 49.69,213.76 50.25,213.76 50.25,213.59 50.82,213.59 50.82,213.35 51.38,213.35 51.38,213.22 51.95,213.22 51.95,213.02 52.51,213.02 52.51,212.86 53.08,212.86 53.08,212.68 53.64,212.68 53.64,212.34 54.21,212.34 54.21,212.08 54.77,212.08 54.77,211.87 55.34,211.87 55.34,211.52 55.91,211.52 55.91,211.14 56.47,211.14 56.47,210.85 57.04,210.85 57.04,210.38 57.6,210.38 57.6,209.94 58.17,209.94 58.17,209.5 58.73,209.5 58.73,209.07 59.3,209.07 59.3,208.43 59.86,208.43 59.86,207.83 60.43,207.83 60.43,207.31 61,207.31 61,206.86 61.56,206.86 61.56,205.95 62.13,205.95 62.13,205.46 62.69,205.46 62.69,204.46 63.26,204.46 63.26,204.06 63.82,204.06 63.82,202.82 64.39,202.82 64.39,202.16 64.95,202.16 64.95,201.56 65.52,201.56 65.52,200.38 66.08,200.38 66.08,199.28 66.65,199.28 66.65,198.18 67.22,198.18 67.22,197.51 67.78,197.51 67.78,196.46 68.35,196.46 68.35,194.84 68.91,194.84 68.91,193.91 69.48,193.91 69.48,192.4 70.04,192.4 70.04,190.91 70.61,190.91 70.61,190.7 71.17,190.7 71.17,188.52 71.74,188.52 71.74,186.68 72.31,186.68 72.31,186.1 72.87,186.1 72.87,185.02 73.44,185.02 73.44,182.76 74,182.76 74,181.66 74.57,181.66 74.57,179.86 75.13,179.86 75.13,179.28 75.7,179.28 75.7,178.7 76.26,178.7 76.26,176.44 76.83,176.44 76.83,175.38 77.39,175.38 77.39,173.21 77.96,173.21 77.96,172.43 78.53,172.43 78.53,172.7 79.09,172.7 79.09,171.29 79.66,171.29 79.66,168.57 80.22,168.57 80.22,167.8 80.79,167.8 80.79,168.1 81.35,168.1 81.35,166.85 81.92,166.85 81.92,164.37 82.48,164.37 82.48,160.3 83.05,160.3 83.05,164.37 83.62,164.37 83.62,166.05 84.18,166.05 84.18,166.93 84.75,166.93 84.75,167.78 85.31,167.78 85.31,167.49 85.88,167.49 85.88,171.17 86.44,171.17 86.44,170.43 87.01,170.43 87.01,171.39 87.57,171.39 87.57,173.67 88.14,173.67 88.14,173.54 88.7,173.54 88.7,175.53 89.27,175.53 89.27,175.76 89.84,175.76 89.84,177.78 90.4,177.78 90.4,178.62 90.97,178.62 90.97,179.66 91.53,179.66 91.53,181.58 92.1,181.58 92.1,183.7 92.66,183.7 92.66,185.41 93.23,185.41 93.23,185.02 93.79,185.02 93.79,187.36 94.36,187.36 94.36,188.97 94.93,188.97 94.93,189.89 95.49,189.89 95.49,191.32 96.06,191.32 96.06,192.15 96.62,192.15 96.62,193.71 97.19,193.71 97.19,194.91 97.75,194.91 97.75,196.32 98.32,196.32 98.32,197.04 98.88,197.04 98.88,198.58 99.45,198.58 99.45,199.11 100.01,199.11 100.01,199.88 100.58,199.88 100.58,201.63 101.15,201.63 101.15,202.74 101.71,202.74 101.71,202.88 102.28,202.88 102.28,203.32 102.84,203.32 102.84,204.82 103.41,204.82 103.41,205.59 103.97,205.59 103.97,205.97 104.54,205.97 104.54,206.86 105.1,206.86 105.1,207.43 105.67,207.43 105.67,207.99 106.24,207.99 106.24,208.43 106.8,208.43 106.8,209.06 107.37,209.06 107.37,209.47 107.93,209.47 107.93,209.97 108.5,209.97 108.5,210.45 109.06,210.45 109.06,210.8 109.63,210.8 109.63,211.21 110.19,211.21 110.19,211.48 110.76,211.48 110.76,211.86 111.33,211.86 111.33,212.15 111.89,212.15 111.89,212.28 112.46,212.28 112.46,212.61 113.02,212.61 113.02,212.83 113.59,212.83 113.59,213.02 114.15,213.02 114.15,213.25 114.72,213.25 114.72,213.43 115.28,213.43 115.28,213.57 115.85,213.57 115.85,213.73 116.41,213.73 116.41,213.9 116.98,213.9 116.98,213.98 117.55,213.98 117.55,214.12 118.11,214.12 118.11,214.24 118.68,214.24 118.68,214.33 119.24,214.33 119.24,214.41 119.81,214.41 119.81,214.46 120.37,214.46 120.37,214.57 120.94,214.57 120.94,214.62 121.5,214.62 121.5,214.7 122.07,214.7 122.07,214.73 122.63,214.73 122.63,214.77 123.2,214.77 123.2,214.83 123.77,214.83 123.77,214.87 124.33,214.87 124.33,214.9 124.9,214.9 124.9,214.93 125.46,214.93 125.46,214.96 126.03,214.96 126.03,214.98 126.59,214.98 126.59,215.02 127.16,215.02 127.16,215.04 127.72,215.04 127.72,215.06 128.29,215.06 128.29,215.08 128.86,215.08 128.86,215.09 129.42,215.09 129.42,215.11 129.99,215.11 129.99,215.12 130.55,215.12 130.55,215.14 131.12,215.14 131.12,215.14 131.68,215.14 131.68,215.16 132.25,215.16 132.25,215.17 132.81,215.17 132.81,215.17 133.38,215.17 133.38,215.18 133.94,215.18 133.94,215.3" fill="#1f77b4" stroke="none"/>
<rect x="82.45" y="160.3" width="1.2" height="55" fill="#1f77b4"/>
<polyline points="26.5,215.29 27.21,215.28 27.91,215.28 28.62,215.28 29.33,215.27 30.03,215.27 30.74,215.26 31.45,215.25 32.16,215.24 32.86,215.23 33.57,215.22 34.28,215.2 34.98,215.19 35.69,215.16 36.4,215.14 37.1,215.11 37.81,215.08 38.52,215.04 39.22,215 39.93,214.95 40.64,214.89 41.34,214.82 42.05,214.75 42.76,214.66 43.47,214.57 44.17,214.46 44.88,214.34 45.59,214.2 46.29,214.04 47,213.87 47.71,213.68 48.41,213.46 49.12,213.23 49.83,212.96 50.53,212.68 51.24,212.36 51.95,212.02 52.65,211.64 53.36,211.23 54.07,210.78 54.77,210.3 55.48,209.78 56.19,209.22 56.9,208.63 57.6,207.99 58.31,207.31 59.02,206.59 59.72,205.83 60.43,205.03 61.14,204.19 61.84,203.31 62.55,202.39 63.26,201.44 63.96,200.45 64.67,199.43 65.38,198.39 66.09,197.32 66.79,196.23 67.5,195.13 68.21,194.01 68.91,192.89 69.62,191.77 70.33,190.66 71.03,189.56 71.74,188.47 72.45,187.41 73.15,186.39 73.86,185.39 74.57,184.44 75.27,183.54 75.98,182.7 76.69,181.92 77.39,181.2 78.1,180.55 78.81,179.98 79.52,179.49 80.22,179.09 80.93,178.77 81.64,178.54 82.34,178.4 83.05,178.36 83.76,178.4 84.46,178.54 85.17,178.77 85.88,179.09 86.58,179.49 87.29,179.98 88,180.55 88.7,181.2 89.41,181.92 90.12,182.7 90.83,183.54 91.53,184.44 92.24,185.39 92.95,186.39 93.65,187.41 94.36,188.47 95.07,189.56 95.77,190.66 96.48,191.77 97.19,192.89 97.89,194.01 98.6,195.13 99.31,196.23 100.02,197.32 100.72,198.39 101.43,199.43 102.14,200.45 102.84,201.44 103.55,202.39 104.26,203.31 104.96,204.19 105.67,205.03 106.38,205.83 107.08,206.59 107.79,207.31 108.5,207.99 109.2,208.63 109.91,209.22 110.62,209.78 111.32,210.3 112.03,210.78 112.74,211.23 113.45,211.64 114.15,212.02 114.86,212.36 115.57,212.68 116.27,212.96 116.98,213.23 117.69,213.46 118.39,213.68 119.1,213.87 119.81,214.04 120.51,214.2 121.22,214.34 121.93,214.46 122.64,214.57 123.34,214.66 124.05,214.75 124.76,214.82 125.46,214.89 126.17,214.95 126.88,215 127.58,215.04 128.29,215.08 129,215.11 129.7,215.14 130.41,215.16 131.12,215.19 131.82,215.2 132.53,215.22 133.24,215.23 133.94,215.24 134.65,215.25 135.36,215.26 136.07,215.27 136.77,215.27 137.48,215.28 138.19,215.28 138.89,215.28 139.6,215.29" fill="none" stroke="#ff7f0e" stroke-width="1.6"/>
<rect x="26.5" y="158" width="113.1" height="57.3" fill="none" stroke="#000" stroke-width="1.05"/>
<line x1="47.71" y1="215.3" x2="47.71" y2="218.8" stroke="#000" stroke-width="1"/>
<text x="47.71" y="231.4" font-size="11" text-anchor="middle" textLength="24.25" lengthAdjust="spacingAndGlyphs" >−2.5</text>
<line x1="83.05" y1="215.3" x2="83.05" y2="218.8" stroke="#000" stroke-width="1"/>
<text x="83.05" y="231.4" font-size="11" text-anchor="middle" textLength="15.54" lengthAdjust="spacingAndGlyphs" >0.0</text>
<line x1="118.39" y1="215.3" x2="118.39" y2="218.8" stroke="#000" stroke-width="1"/>
<text x="118.39" y="231.4" font-size="11" text-anchor="middle" textLength="15.54" lengthAdjust="spacingAndGlyphs" >2.5</text>
<line x1="23" y1="215.3" x2="26.5" y2="215.3" stroke="#000" stroke-width="1"/>
<text x="19" y="219.5" font-size="11" text-anchor="end" textLength="5.62" lengthAdjust="spacingAndGlyphs" >0</text>
<line x1="23" y1="169" x2="26.5" y2="169" stroke="#000" stroke-width="1"/>
<text x="19" y="173.2" font-size="11" text-anchor="end" textLength="5.62" lengthAdjust="spacingAndGlyphs" >5</text>
<text x="27.7" y="154.6" font-size="11" text-anchor="start" textLength="20.6" lengthAdjust="spacingAndGlyphs" >×10</text>
<text x="49.3" y="150.5" font-size="7.8" text-anchor="start" textLength="9.6" lengthAdjust="spacingAndGlyphs" >−1</text>
<text x="36" y="244.6" font-size="11" font-family='"Liberation Sans", sans-serif'><tspan font-style="italic">z</tspan></text><text x="42.8" y="240.2" font-size="6.4">η</text><text x="42.6" y="247.2" font-size="7">τ</text><text x="51" y="244.6" font-size="11" textLength="79" lengthAdjust="spacingAndGlyphs">at step <tspan font-style="italic">τ</tspan> = 1(h)</text>
<polygon points="198.57,215.3 198.57,215.17 199.14,215.17 199.14,215.16 199.7,215.16 199.7,215.14 200.27,215.14 200.27,215.13 200.84,215.13 200.84,215.1 201.41,215.1 201.41,215.08 201.97,215.08 201.97,215.07 202.54,215.07 202.54,215.04 203.11,215.04 203.11,215.02 203.67,215.02 203.67,215 204.24,215 204.24,214.96 204.81,214.96 204.81,214.94 205.37,214.94 205.37,214.91 205.94,214.91 205.94,214.87 206.51,214.87 206.51,214.82 207.08,214.82 207.08,214.78 207.64,214.78 207.64,214.73 208.21,214.73 208.21,214.69 208.78,214.69 208.78,214.63 209.34,214.63 209.34,214.58 209.91,214.58 209.91,214.5 210.48,214.5 210.48,214.44 211.04,214.44 211.04,214.36 211.61,214.36 211.61,214.27 212.18,214.27 212.18,214.21 212.75,214.21 212.75,214.08 213.31,214.08 213.31,213.95 213.88,213.95 213.88,213.93 214.45,213.93 214.45,213.82 215.01,213.82 215.01,213.69 215.58,213.69 215.58,213.48 216.15,213.48 216.15,213.36 216.71,213.36 216.71,213.16 217.28,213.16 217.28,213 217.85,213 217.85,212.84 218.42,212.84 218.42,212.64 218.98,212.64 218.98,212.46 219.55,212.46 219.55,212.18 220.12,212.18 220.12,212.05 220.68,212.05 220.68,211.76 221.25,211.76 221.25,211.44 221.82,211.44 221.82,211.03 222.38,211.03 222.38,210.92 222.95,210.92 222.95,210.62 223.52,210.62 223.52,210.23 224.09,210.23 224.09,209.71 224.65,209.71 224.65,209.43 225.22,209.43 225.22,208.84 225.79,208.84 225.79,208.77 226.35,208.77 226.35,207.92 226.92,207.92 226.92,207.43 227.49,207.43 227.49,207.25 228.05,207.25 228.05,206.46 228.62,206.46 228.62,205.69 229.19,205.69 229.19,205.25 229.76,205.25 229.76,204.42 230.32,204.42 230.32,203.44 230.89,203.44 230.89,203.14 231.46,203.14 231.46,202.51 232.02,202.51 232.02,201.84 232.59,201.84 232.59,200.64 233.16,200.64 233.16,199.99 233.72,199.99 233.72,199.08 234.29,199.08 234.29,198.11 234.86,198.11 234.86,196.88 235.43,196.88 235.43,196.43 235.99,196.43 235.99,195.56 236.56,195.56 236.56,194.83 237.13,194.83 237.13,192.26 237.69,192.26 237.69,191.53 238.26,191.53 238.26,189.67 238.83,189.67 238.83,189.1 239.39,189.1 239.39,188.18 239.96,188.18 239.96,186.25 240.53,186.25 240.53,185.2 241.1,185.2 241.1,184.5 241.66,184.5 241.66,182.93 242.23,182.93 242.23,179.91 242.8,179.91 242.8,179.37 243.36,179.37 243.36,177.9 243.93,177.9 243.93,176.95 244.5,176.95 244.5,175.86 245.06,175.86 245.06,173.31 245.63,173.31 245.63,172.71 246.2,172.71 246.2,171.92 246.77,171.92 246.77,170.18 247.33,170.18 247.33,169.67 247.9,169.67 247.9,167.69 248.47,167.69 248.47,163.93 249.03,163.93 249.03,159.82 249.6,159.82 249.6,163.93 250.17,163.93 250.17,167.53 250.73,167.53 250.73,167.72 251.3,167.72 251.3,169.61 251.87,169.61 251.87,170.26 252.44,170.26 252.44,171.28 253,171.28 253,172.96 253.57,172.96 253.57,174.5 254.14,174.5 254.14,175.85 254.7,175.85 254.7,177.33 255.27,177.33 255.27,179.23 255.84,179.23 255.84,179.76 256.4,179.76 256.4,180.76 256.97,180.76 256.97,181.87 257.54,181.87 257.54,183.43 258.11,183.43 258.11,183.82 258.67,183.82 258.67,186.33 259.24,186.33 259.24,188.04 259.81,188.04 259.81,188.22 260.37,188.22 260.37,190.82 260.94,190.82 260.94,191.15 261.51,191.15 261.51,193.14 262.07,193.14 262.07,193.75 262.64,193.75 262.64,195.72 263.21,195.72 263.21,195.75 263.78,195.75 263.78,197.14 264.34,197.14 264.34,198.38 264.91,198.38 264.91,198.54 265.48,198.54 265.48,199.73 266.04,199.73 266.04,200.8 266.61,200.8 266.61,201.83 267.18,201.83 267.18,202.45 267.74,202.45 267.74,203.24 268.31,203.24 268.31,203.78 268.88,203.78 268.88,204.46 269.45,204.46 269.45,205.39 270.01,205.39 270.01,205.99 270.58,205.99 270.58,206.57 271.15,206.57 271.15,207.24 271.71,207.24 271.71,207.65 272.28,207.65 272.28,208.08 272.85,208.08 272.85,208.46 273.41,208.46 273.41,208.84 273.98,208.84 273.98,209.5 274.55,209.5 274.55,209.75 275.12,209.75 275.12,210.22 275.68,210.22 275.68,210.35 276.25,210.35 276.25,210.86 276.82,210.86 276.82,211.13 277.38,211.13 277.38,211.52 277.95,211.52 277.95,211.78 278.52,211.78 278.52,211.97 279.08,211.97 279.08,212.25 279.65,212.25 279.65,212.43 280.22,212.43 280.22,212.73 280.79,212.73 280.79,212.82 281.35,212.82 281.35,213.07 281.92,213.07 281.92,213.14 282.49,213.14 282.49,213.37 283.05,213.37 283.05,213.47 283.62,213.47 283.62,213.68 284.19,213.68 284.19,213.76 284.75,213.76 284.75,213.91 285.32,213.91 285.32,214.01 285.89,214.01 285.89,214.1 286.46,214.1 286.46,214.2 287.02,214.2 287.02,214.28 287.59,214.28 287.59,214.35 288.16,214.35 288.16,214.43 288.72,214.43 288.72,214.51 289.29,214.51 289.29,214.59 289.86,214.59 289.86,214.64 290.42,214.64 290.42,214.69 290.99,214.69 290.99,214.76 291.56,214.76 291.56,214.78 292.12,214.78 292.12,214.83 292.69,214.83 292.69,214.87 293.26,214.87 293.26,214.9 293.83,214.9 293.83,214.93 294.39,214.93 294.39,214.97 294.96,214.97 294.96,215 295.53,215 295.53,215.02 296.09,215.02 296.09,215.04 296.66,215.04 296.66,215.07 297.23,215.07 297.23,215.08 297.8,215.08 297.8,215.11 298.36,215.11 298.36,215.13 298.93,215.13 298.93,215.14 299.5,215.14 299.5,215.16 300.06,215.16 300.06,215.16 300.63,215.16 300.63,215.3" fill="#1f77b4" stroke="none"/>
<rect x="249" y="159.82" width="1.2" height="55.48" fill="#1f77b4"/>
<polyline points="192.9,215.29 193.61,215.28 194.32,215.28 195.03,215.28 195.74,215.27 196.44,215.27 197.15,215.26 197.86,215.25 198.57,215.24 199.28,215.23 199.99,215.22 200.7,215.2 201.41,215.18 202.11,215.16 202.82,215.14 203.53,215.11 204.24,215.08 204.95,215.04 205.66,214.99 206.37,214.94 207.08,214.89 207.78,214.82 208.49,214.74 209.2,214.66 209.91,214.56 210.62,214.45 211.33,214.33 212.04,214.19 212.75,214.03 213.45,213.86 214.16,213.66 214.87,213.45 215.58,213.21 216.29,212.94 217,212.65 217.71,212.34 218.42,211.99 219.12,211.61 219.83,211.19 220.54,210.74 221.25,210.26 221.96,209.73 222.67,209.17 223.38,208.57 224.09,207.93 224.79,207.24 225.5,206.52 226.21,205.75 226.92,204.94 227.63,204.09 228.34,203.2 229.05,202.28 229.76,201.32 230.46,200.32 231.17,199.29 231.88,198.24 232.59,197.16 233.3,196.07 234.01,194.95 234.72,193.83 235.43,192.7 236.13,191.57 236.84,190.45 237.55,189.34 238.26,188.24 238.97,187.17 239.68,186.14 240.39,185.13 241.1,184.18 241.8,183.27 242.51,182.42 243.22,181.63 243.93,180.9 244.64,180.25 245.35,179.68 246.06,179.19 246.77,178.78 247.47,178.46 248.18,178.22 248.89,178.09 249.6,178.04 250.31,178.09 251.02,178.22 251.73,178.46 252.44,178.78 253.14,179.19 253.85,179.68 254.56,180.25 255.27,180.9 255.98,181.63 256.69,182.42 257.4,183.27 258.11,184.18 258.81,185.13 259.52,186.14 260.23,187.17 260.94,188.24 261.65,189.34 262.36,190.45 263.07,191.57 263.78,192.7 264.48,193.83 265.19,194.95 265.9,196.07 266.61,197.16 267.32,198.24 268.03,199.29 268.74,200.32 269.45,201.32 270.15,202.28 270.86,203.2 271.57,204.09 272.28,204.94 272.99,205.75 273.7,206.52 274.41,207.24 275.12,207.93 275.82,208.57 276.53,209.17 277.24,209.73 277.95,210.26 278.66,210.74 279.37,211.19 280.08,211.61 280.79,211.99 281.49,212.34 282.2,212.65 282.91,212.94 283.62,213.21 284.33,213.45 285.04,213.66 285.75,213.86 286.46,214.03 287.16,214.19 287.87,214.33 288.58,214.45 289.29,214.56 290,214.66 290.71,214.74 291.42,214.82 292.12,214.89 292.83,214.94 293.54,214.99 294.25,215.04 294.96,215.08 295.67,215.11 296.38,215.14 297.09,215.16 297.8,215.18 298.5,215.2 299.21,215.22 299.92,215.23 300.63,215.24 301.34,215.25 302.05,215.26 302.76,215.27 303.47,215.27 304.17,215.28 304.88,215.28 305.59,215.28 306.3,215.29" fill="none" stroke="#ff7f0e" stroke-width="1.6"/>
<rect x="192.9" y="158" width="113.4" height="57.3" fill="none" stroke="#000" stroke-width="1.05"/>
<line x1="214.16" y1="215.3" x2="214.16" y2="218.8" stroke="#000" stroke-width="1"/>
<text x="214.16" y="231.4" font-size="11" text-anchor="middle" textLength="24.25" lengthAdjust="spacingAndGlyphs" >−2.5</text>
<line x1="249.6" y1="215.3" x2="249.6" y2="218.8" stroke="#000" stroke-width="1"/>
<text x="249.6" y="231.4" font-size="11" text-anchor="middle" textLength="15.54" lengthAdjust="spacingAndGlyphs" >0.0</text>
<line x1="285.04" y1="215.3" x2="285.04" y2="218.8" stroke="#000" stroke-width="1"/>
<text x="285.04" y="231.4" font-size="11" text-anchor="middle" textLength="15.54" lengthAdjust="spacingAndGlyphs" >2.5</text>
<line x1="189.4" y1="215.3" x2="192.9" y2="215.3" stroke="#000" stroke-width="1"/>
<text x="185.4" y="219.5" font-size="11" text-anchor="end" textLength="5.62" lengthAdjust="spacingAndGlyphs" >0</text>
<line x1="189.4" y1="168.6" x2="192.9" y2="168.6" stroke="#000" stroke-width="1"/>
<text x="185.4" y="172.8" font-size="11" text-anchor="end" textLength="5.62" lengthAdjust="spacingAndGlyphs" >5</text>
<text x="194.1" y="154.6" font-size="11" text-anchor="start" textLength="20.6" lengthAdjust="spacingAndGlyphs" >×10</text>
<text x="215.7" y="150.5" font-size="7.8" text-anchor="start" textLength="9.6" lengthAdjust="spacingAndGlyphs" >−1</text>
<text x="199.4" y="244.6" font-size="11" font-family='"Liberation Sans", sans-serif'><tspan font-style="italic">z</tspan></text><text x="206.2" y="240.2" font-size="6.4">η</text><text x="206" y="247.2" font-size="7">τ</text><text x="214.4" y="244.6" font-size="11" textLength="84.5" lengthAdjust="spacingAndGlyphs">at step <tspan font-style="italic">τ</tspan> = 48(h)</text>
<polygon points="365.27,215.3 365.27,215.16 365.83,215.16 365.83,215.16 366.4,215.16 366.4,215.14 366.96,215.14 366.96,215.13 367.53,215.13 367.53,215.11 368.1,215.11 368.1,215.09 368.66,215.09 368.66,215.08 369.23,215.08 369.23,215.05 369.8,215.05 369.8,215.03 370.36,215.03 370.36,214.98 370.93,214.98 370.93,214.97 371.5,214.97 371.5,214.94 372.06,214.94 372.06,214.91 372.63,214.91 372.63,214.87 373.2,214.87 373.2,214.84 373.76,214.84 373.76,214.79 374.33,214.79 374.33,214.73 374.9,214.73 374.9,214.69 375.46,214.69 375.46,214.62 376.03,214.62 376.03,214.58 376.6,214.58 376.6,214.51 377.16,214.51 377.16,214.42 377.73,214.42 377.73,214.36 378.29,214.36 378.29,214.3 378.86,214.3 378.86,214.2 379.43,214.2 379.43,214.09 379.99,214.09 379.99,213.96 380.56,213.96 380.56,213.9 381.13,213.9 381.13,213.78 381.69,213.78 381.69,213.62 382.26,213.62 382.26,213.54 382.83,213.54 382.83,213.38 383.39,213.38 383.39,213.18 383.96,213.18 383.96,213.02 384.53,213.02 384.53,212.86 385.09,212.86 385.09,212.64 385.66,212.64 385.66,212.6 386.23,212.6 386.23,212.18 386.79,212.18 386.79,212.06 387.36,212.06 387.36,211.85 387.93,211.85 387.93,211.46 388.49,211.46 388.49,211.13 389.06,211.13 389.06,210.91 389.62,210.91 389.62,210.64 390.19,210.64 390.19,210.2 390.76,210.2 390.76,209.83 391.32,209.83 391.32,209.29 391.89,209.29 391.89,208.93 392.46,208.93 392.46,208.55 393.02,208.55 393.02,207.96 393.59,207.96 393.59,207.63 394.16,207.63 394.16,207.21 394.72,207.21 394.72,206.43 395.29,206.43 395.29,205.83 395.86,205.83 395.86,205.35 396.42,205.35 396.42,204.81 396.99,204.81 396.99,203.93 397.56,203.93 397.56,203.8 398.12,203.8 398.12,202.34 398.69,202.34 398.69,201.58 399.25,201.58 399.25,201.3 399.82,201.3 399.82,199.99 400.39,199.99 400.39,199.38 400.95,199.38 400.95,197.92 401.52,197.92 401.52,197.83 402.09,197.83 402.09,196.46 402.65,196.46 402.65,194.83 403.22,194.83 403.22,193.54 403.79,193.54 403.79,193.72 404.35,193.72 404.35,191.88 404.92,191.88 404.92,190.31 405.49,190.31 405.49,189.5 406.05,189.5 406.05,187.15 406.62,187.15 406.62,187.24 407.19,187.24 407.19,185.1 407.75,185.1 407.75,184.52 408.32,184.52 408.32,181.72 408.89,181.72 408.89,181.17 409.45,181.17 409.45,179.98 410.02,179.98 410.02,179.48 410.58,179.48 410.58,175.77 411.15,175.77 411.15,174.99 411.72,174.99 411.72,173.6 412.28,173.6 412.28,171.94 412.85,171.94 412.85,171.23 413.42,171.23 413.42,170.79 413.98,170.79 413.98,169.78 414.55,169.78 414.55,168.74 415.12,168.74 415.12,164.15 415.68,164.15 415.68,160.06 416.25,160.06 416.25,164.15 416.82,164.15 416.82,167.43 417.38,167.43 417.38,167.87 417.95,167.87 417.95,168.63 418.52,168.63 418.52,171.28 419.08,171.28 419.08,172.87 419.65,172.87 419.65,172.81 420.22,172.81 420.22,173.26 420.78,173.26 420.78,174.99 421.35,174.99 421.35,176.78 421.92,176.78 421.92,178.55 422.48,178.55 422.48,179.56 423.05,179.56 423.05,181.3 423.61,181.3 423.61,182.07 424.18,182.07 424.18,184.38 424.75,184.38 424.75,185.21 425.31,185.21 425.31,186.68 425.88,186.68 425.88,187.66 426.45,187.66 426.45,189.1 427.01,189.1 427.01,189.32 427.58,189.32 427.58,191.03 428.15,191.03 428.15,192.24 428.71,192.24 428.71,194.77 429.28,194.77 429.28,195.21 429.85,195.21 429.85,196.36 430.41,196.36 430.41,197 430.98,197 430.98,198.86 431.55,198.86 431.55,198.76 432.11,198.76 432.11,199.71 432.68,199.71 432.68,201.21 433.25,201.21 433.25,201.94 433.81,201.94 433.81,202.68 434.38,202.68 434.38,203.25 434.94,203.25 434.94,203.84 435.51,203.84 435.51,204.27 436.08,204.27 436.08,205.35 436.64,205.35 436.64,205.8 437.21,205.8 437.21,206.5 437.78,206.5 437.78,206.82 438.34,206.82 438.34,207.5 438.91,207.5 438.91,207.92 439.48,207.92 439.48,208.7 440.04,208.7 440.04,209.04 440.61,209.04 440.61,209.52 441.18,209.52 441.18,209.68 441.74,209.68 441.74,210.14 442.31,210.14 442.31,210.58 442.88,210.58 442.88,210.91 443.44,210.91 443.44,211.15 444.01,211.15 444.01,211.52 444.57,211.52 444.57,211.81 445.14,211.81 445.14,211.97 445.71,211.97 445.71,212.1 446.27,212.1 446.27,212.47 446.84,212.47 446.84,212.69 447.41,212.69 447.41,212.91 447.97,212.91 447.97,213.1 448.54,213.1 448.54,213.19 449.11,213.19 449.11,213.34 449.67,213.34 449.67,213.51 450.24,213.51 450.24,213.64 450.81,213.64 450.81,213.77 451.37,213.77 451.37,213.89 451.94,213.89 451.94,214.04 452.51,214.04 452.51,214.12 453.07,214.12 453.07,214.2 453.64,214.2 453.64,214.3 454.21,214.3 454.21,214.38 454.77,214.38 454.77,214.45 455.34,214.45 455.34,214.52 455.9,214.52 455.9,214.56 456.47,214.56 456.47,214.64 457.04,214.64 457.04,214.69 457.6,214.69 457.6,214.73 458.17,214.73 458.17,214.78 458.74,214.78 458.74,214.81 459.3,214.81 459.3,214.88 459.87,214.88 459.87,214.9 460.44,214.9 460.44,214.94 461,214.94 461,214.97 461.57,214.97 461.57,214.99 462.14,214.99 462.14,215.02 462.7,215.02 462.7,215.04 463.27,215.04 463.27,215.07 463.84,215.07 463.84,215.08 464.4,215.08 464.4,215.11 464.97,215.11 464.97,215.13 465.54,215.13 465.54,215.14 466.1,215.14 466.1,215.16 466.67,215.16 466.67,215.16 467.23,215.16 467.23,215.3" fill="#1f77b4" stroke="none"/>
<rect x="415.65" y="160.06" width="1.2" height="55.24" fill="#1f77b4"/>
<polyline points="359.6,215.29 360.31,215.28 361.02,215.28 361.72,215.28 362.43,215.27 363.14,215.27 363.85,215.26 364.56,215.25 365.27,215.24 365.97,215.23 366.68,215.22 367.39,215.2 368.1,215.19 368.81,215.16 369.51,215.14 370.22,215.11 370.93,215.08 371.64,215.04 372.35,215 373.05,214.95 373.76,214.89 374.47,214.82 375.18,214.75 375.89,214.66 376.6,214.56 377.3,214.45 378.01,214.33 378.72,214.19 379.43,214.04 380.14,213.86 380.84,213.67 381.55,213.46 382.26,213.22 382.97,212.95 383.68,212.67 384.38,212.35 385.09,212 385.8,211.62 386.51,211.21 387.22,210.76 387.93,210.28 388.63,209.76 389.34,209.2 390.05,208.6 390.76,207.96 391.47,207.28 392.17,206.55 392.88,205.79 393.59,204.98 394.3,204.14 395.01,203.25 395.71,202.33 396.42,201.38 397.13,200.38 397.84,199.36 398.55,198.31 399.25,197.24 399.96,196.15 400.67,195.04 401.38,193.92 402.09,192.8 402.8,191.67 403.5,190.55 404.21,189.45 404.92,188.36 405.63,187.29 406.34,186.26 407.04,185.26 407.75,184.31 408.46,183.41 409.17,182.56 409.88,181.77 410.58,181.05 411.29,180.4 412,179.83 412.71,179.34 413.42,178.93 414.13,178.61 414.83,178.38 415.54,178.24 416.25,178.2 416.96,178.24 417.67,178.38 418.37,178.61 419.08,178.93 419.79,179.34 420.5,179.83 421.21,180.4 421.92,181.05 422.62,181.77 423.33,182.56 424.04,183.41 424.75,184.31 425.46,185.26 426.16,186.26 426.87,187.29 427.58,188.36 428.29,189.45 429,190.55 429.7,191.67 430.41,192.8 431.12,193.92 431.83,195.04 432.54,196.15 433.25,197.24 433.95,198.31 434.66,199.36 435.37,200.38 436.08,201.38 436.79,202.33 437.49,203.25 438.2,204.14 438.91,204.98 439.62,205.79 440.33,206.55 441.03,207.28 441.74,207.96 442.45,208.6 443.16,209.2 443.87,209.76 444.57,210.28 445.28,210.76 445.99,211.21 446.7,211.62 447.41,212 448.12,212.35 448.82,212.67 449.53,212.95 450.24,213.22 450.95,213.46 451.66,213.67 452.36,213.86 453.07,214.04 453.78,214.19 454.49,214.33 455.2,214.45 455.9,214.56 456.61,214.66 457.32,214.75 458.03,214.82 458.74,214.89 459.45,214.95 460.15,215 460.86,215.04 461.57,215.08 462.28,215.11 462.99,215.14 463.69,215.16 464.4,215.19 465.11,215.2 465.82,215.22 466.53,215.23 467.24,215.24 467.94,215.25 468.65,215.26 469.36,215.27 470.07,215.27 470.78,215.28 471.48,215.28 472.19,215.28 472.9,215.29" fill="none" stroke="#ff7f0e" stroke-width="1.6"/>
<rect x="359.6" y="158" width="113.3" height="57.3" fill="none" stroke="#000" stroke-width="1.05"/>
<line x1="380.84" y1="215.3" x2="380.84" y2="218.8" stroke="#000" stroke-width="1"/>
<text x="380.84" y="231.4" font-size="11" text-anchor="middle" textLength="24.25" lengthAdjust="spacingAndGlyphs" >−2.5</text>
<line x1="416.25" y1="215.3" x2="416.25" y2="218.8" stroke="#000" stroke-width="1"/>
<text x="416.25" y="231.4" font-size="11" text-anchor="middle" textLength="15.54" lengthAdjust="spacingAndGlyphs" >0.0</text>
<line x1="451.66" y1="215.3" x2="451.66" y2="218.8" stroke="#000" stroke-width="1"/>
<text x="451.66" y="231.4" font-size="11" text-anchor="middle" textLength="15.54" lengthAdjust="spacingAndGlyphs" >2.5</text>
<line x1="356.1" y1="215.3" x2="359.6" y2="215.3" stroke="#000" stroke-width="1"/>
<text x="352.1" y="219.5" font-size="11" text-anchor="end" textLength="5.62" lengthAdjust="spacingAndGlyphs" >0</text>
<line x1="356.1" y1="168.8" x2="359.6" y2="168.8" stroke="#000" stroke-width="1"/>
<text x="352.1" y="173" font-size="11" text-anchor="end" textLength="5.62" lengthAdjust="spacingAndGlyphs" >5</text>
<text x="360.8" y="154.6" font-size="11" text-anchor="start" textLength="20.6" lengthAdjust="spacingAndGlyphs" >×10</text>
<text x="382.4" y="150.5" font-size="7.8" text-anchor="start" textLength="9.6" lengthAdjust="spacingAndGlyphs" >−1</text>
<text x="366.3" y="244.6" font-size="11" font-family='"Liberation Sans", sans-serif'><tspan font-style="italic">z</tspan></text><text x="373.1" y="240.2" font-size="6.4">η</text><text x="372.9" y="247.2" font-size="7">τ</text><text x="381.3" y="244.6" font-size="11" textLength="86" lengthAdjust="spacingAndGlyphs">at step <tspan font-style="italic">τ</tspan> = 96(h)</text>
<polygon points="531.56,215.3 531.56,215.18 532.13,215.18 532.13,215.17 532.69,215.17 532.69,215.16 533.26,215.16 533.26,215.15 533.82,215.15 533.82,215.15 534.39,215.15 534.39,215.13 534.96,215.13 534.96,215.12 535.52,215.12 535.52,215.11 536.09,215.11 536.09,215.1 536.65,215.1 536.65,215.08 537.22,215.08 537.22,215.06 537.79,215.06 537.79,215.03 538.35,215.03 538.35,215.01 538.92,215.01 538.92,214.99 539.48,214.99 539.48,214.97 540.05,214.97 540.05,214.92 540.62,214.92 540.62,214.91 541.18,214.91 541.18,214.85 541.75,214.85 541.75,214.83 542.31,214.83 542.31,214.79 542.88,214.79 542.88,214.74 543.45,214.74 543.45,214.68 544.01,214.68 544.01,214.61 544.58,214.61 544.58,214.55 545.14,214.55 545.14,214.45 545.71,214.45 545.71,214.43 546.28,214.43 546.28,214.31 546.84,214.31 546.84,214.23 547.41,214.23 547.41,214.09 547.97,214.09 547.97,214.04 548.54,214.04 548.54,213.87 549.11,213.87 549.11,213.72 549.67,213.72 549.67,213.62 550.24,213.62 550.24,213.38 550.8,213.38 550.8,213.22 551.37,213.22 551.37,212.99 551.94,212.99 551.94,212.78 552.5,212.78 552.5,212.64 553.07,212.64 553.07,212.38 553.63,212.38 553.63,212.08 554.2,212.08 554.2,211.73 554.77,211.73 554.77,211.4 555.33,211.4 555.33,211.17 555.9,211.17 555.9,210.8 556.46,210.8 556.46,210.43 557.03,210.43 557.03,209.99 557.6,209.99 557.6,209.5 558.16,209.5 558.16,209 558.73,209 558.73,208.22 559.29,208.22 559.29,207.98 559.86,207.98 559.86,207.37 560.43,207.37 560.43,206.63 560.99,206.63 560.99,206.19 561.56,206.19 561.56,205.39 562.12,205.39 562.12,204.58 562.69,204.58 562.69,203.63 563.26,203.63 563.26,203.26 563.82,203.26 563.82,201.77 564.39,201.77 564.39,201.27 564.95,201.27 564.95,200.18 565.52,200.18 565.52,198.99 566.09,198.99 566.09,197.99 566.65,197.99 566.65,196.76 567.22,196.76 567.22,195.93 567.78,195.93 567.78,194.84 568.35,194.84 568.35,193.51 568.92,193.51 568.92,192.81 569.48,192.81 569.48,190.61 570.05,190.61 570.05,190.2 570.61,190.2 570.61,189.13 571.18,189.13 571.18,186.14 571.75,186.14 571.75,185.89 572.31,185.89 572.31,185.09 572.88,185.09 572.88,181.98 573.44,181.98 573.44,181.86 574.01,181.86 574.01,179.61 574.58,179.61 574.58,179.44 575.14,179.44 575.14,177.7 575.71,177.7 575.71,177.38 576.27,177.38 576.27,176.27 576.84,176.27 576.84,174.35 577.41,174.35 577.41,172.45 577.97,172.45 577.97,170.59 578.54,170.59 578.54,168.15 579.1,168.15 579.1,169.96 579.67,169.96 579.67,167.32 580.24,167.32 580.24,167.87 580.8,167.87 580.8,166.77 581.37,166.77 581.37,164.15 581.93,164.15 581.93,160.06 582.5,160.06 582.5,164.15 583.07,164.15 583.07,167.12 583.63,167.12 583.63,166.64 584.2,166.64 584.2,167.95 584.76,167.95 584.76,167.11 585.33,167.11 585.33,168.98 585.9,168.98 585.9,169.99 586.46,169.99 586.46,170.32 587.03,170.32 587.03,171.99 587.59,171.99 587.59,173.64 588.16,173.64 588.16,174.95 588.73,174.95 588.73,176.28 589.29,176.28 589.29,176.8 589.86,176.8 589.86,178.38 590.42,178.38 590.42,180.05 590.99,180.05 590.99,181.18 591.56,181.18 591.56,183.37 592.12,183.37 592.12,184.16 592.69,184.16 592.69,186.57 593.25,186.57 593.25,186.5 593.82,186.5 593.82,188.48 594.39,188.48 594.39,189.76 594.95,189.76 594.95,190.88 595.52,190.88 595.52,192.41 596.08,192.41 596.08,193.73 596.65,193.73 596.65,194.39 597.22,194.39 597.22,195.95 597.78,195.95 597.78,197.41 598.35,197.41 598.35,198.06 598.91,198.06 598.91,199.72 599.48,199.72 599.48,199.78 600.05,199.78 600.05,201.23 600.61,201.23 600.61,202.08 601.18,202.08 601.18,202.46 601.74,202.46 601.74,203.35 602.31,203.35 602.31,204.56 602.88,204.56 602.88,205.21 603.44,205.21 603.44,205.85 604.01,205.85 604.01,206.44 604.57,206.44 604.57,207.34 605.14,207.34 605.14,207.9 605.71,207.9 605.71,208.32 606.27,208.32 606.27,208.96 606.84,208.96 606.84,209.4 607.4,209.4 607.4,209.87 607.97,209.87 607.97,210.46 608.54,210.46 608.54,210.82 609.1,210.82 609.1,211.32 609.67,211.32 609.67,211.48 610.23,211.48 610.23,211.69 610.8,211.69 610.8,212.13 611.37,212.13 611.37,212.27 611.93,212.27 611.93,212.54 612.5,212.54 612.5,212.82 613.06,212.82 613.06,213.03 613.63,213.03 613.63,213.23 614.2,213.23 614.2,213.44 614.76,213.44 614.76,213.58 615.33,213.58 615.33,213.73 615.89,213.73 615.89,213.85 616.46,213.85 616.46,213.97 617.03,213.97 617.03,214.12 617.59,214.12 617.59,214.2 618.16,214.2 618.16,214.32 618.72,214.32 618.72,214.4 619.29,214.4 619.29,214.47 619.86,214.47 619.86,214.55 620.42,214.55 620.42,214.62 620.99,214.62 620.99,214.67 621.55,214.67 621.55,214.73 622.12,214.73 622.12,214.78 622.69,214.78 622.69,214.82 623.25,214.82 623.25,214.86 623.82,214.86 623.82,214.9 624.38,214.9 624.38,214.92 624.95,214.92 624.95,214.96 625.52,214.96 625.52,215.01 626.08,215.01 626.08,215.02 626.65,215.02 626.65,215.03 627.21,215.03 627.21,215.06 627.78,215.06 627.78,215.08 628.35,215.08 628.35,215.1 628.91,215.1 628.91,215.1 629.48,215.1 629.48,215.12 630.04,215.12 630.04,215.13 630.61,215.13 630.61,215.14 631.18,215.14 631.18,215.15 631.74,215.15 631.74,215.16 632.31,215.16 632.31,215.18 632.87,215.18 632.87,215.18 633.44,215.18 633.44,215.3" fill="#1f77b4" stroke="none"/>
<rect x="581.9" y="160.06" width="1.2" height="55.24" fill="#1f77b4"/>
<polyline points="525.9,215.29 526.61,215.28 527.31,215.28 528.02,215.28 528.73,215.27 529.44,215.27 530.14,215.26 530.85,215.25 531.56,215.24 532.27,215.23 532.98,215.22 533.68,215.2 534.39,215.19 535.1,215.16 535.8,215.14 536.51,215.11 537.22,215.08 537.93,215.04 538.63,215 539.34,214.95 540.05,214.89 540.76,214.82 541.47,214.75 542.17,214.66 542.88,214.56 543.59,214.45 544.29,214.33 545,214.19 545.71,214.04 546.42,213.86 547.12,213.67 547.83,213.46 548.54,213.22 549.25,212.95 549.96,212.67 550.66,212.35 551.37,212 552.08,211.62 552.78,211.21 553.49,210.76 554.2,210.28 554.91,209.76 555.62,209.2 556.32,208.6 557.03,207.96 557.74,207.28 558.44,206.55 559.15,205.79 559.86,204.98 560.57,204.14 561.27,203.25 561.98,202.33 562.69,201.38 563.4,200.38 564.11,199.36 564.81,198.31 565.52,197.24 566.23,196.15 566.93,195.04 567.64,193.92 568.35,192.8 569.06,191.67 569.76,190.55 570.47,189.45 571.18,188.36 571.89,187.29 572.6,186.26 573.3,185.26 574.01,184.31 574.72,183.41 575.42,182.56 576.13,181.77 576.84,181.05 577.55,180.4 578.25,179.83 578.96,179.34 579.67,178.93 580.38,178.61 581.09,178.38 581.79,178.24 582.5,178.2 583.21,178.24 583.91,178.38 584.62,178.61 585.33,178.93 586.04,179.34 586.75,179.83 587.45,180.4 588.16,181.05 588.87,181.77 589.58,182.56 590.28,183.41 590.99,184.31 591.7,185.26 592.4,186.26 593.11,187.29 593.82,188.36 594.53,189.45 595.24,190.55 595.94,191.67 596.65,192.8 597.36,193.92 598.07,195.04 598.77,196.15 599.48,197.24 600.19,198.31 600.89,199.36 601.6,200.38 602.31,201.38 603.02,202.33 603.73,203.25 604.43,204.14 605.14,204.98 605.85,205.79 606.56,206.55 607.26,207.28 607.97,207.96 608.68,208.6 609.38,209.2 610.09,209.76 610.8,210.28 611.51,210.76 612.22,211.21 612.92,211.62 613.63,212 614.34,212.35 615.05,212.67 615.75,212.95 616.46,213.22 617.17,213.46 617.88,213.67 618.58,213.86 619.29,214.04 620,214.19 620.71,214.33 621.41,214.45 622.12,214.56 622.83,214.66 623.54,214.75 624.24,214.82 624.95,214.89 625.66,214.95 626.37,215 627.07,215.04 627.78,215.08 628.49,215.11 629.2,215.14 629.9,215.16 630.61,215.19 631.32,215.2 632.02,215.22 632.73,215.23 633.44,215.24 634.15,215.25 634.86,215.26 635.56,215.27 636.27,215.27 636.98,215.28 637.69,215.28 638.39,215.28 639.1,215.29" fill="none" stroke="#ff7f0e" stroke-width="1.6"/>
<rect x="525.9" y="158" width="113.2" height="57.3" fill="none" stroke="#000" stroke-width="1.05"/>
<line x1="547.12" y1="215.3" x2="547.12" y2="218.8" stroke="#000" stroke-width="1"/>
<text x="547.12" y="231.4" font-size="11" text-anchor="middle" textLength="24.25" lengthAdjust="spacingAndGlyphs" >−2.5</text>
<line x1="582.5" y1="215.3" x2="582.5" y2="218.8" stroke="#000" stroke-width="1"/>
<text x="582.5" y="231.4" font-size="11" text-anchor="middle" textLength="15.54" lengthAdjust="spacingAndGlyphs" >0.0</text>
<line x1="617.88" y1="215.3" x2="617.88" y2="218.8" stroke="#000" stroke-width="1"/>
<text x="617.88" y="231.4" font-size="11" text-anchor="middle" textLength="15.54" lengthAdjust="spacingAndGlyphs" >2.5</text>
<line x1="522.4" y1="215.3" x2="525.9" y2="215.3" stroke="#000" stroke-width="1"/>
<text x="518.4" y="219.5" font-size="11" text-anchor="end" textLength="5.62" lengthAdjust="spacingAndGlyphs" >0</text>
<line x1="522.4" y1="168.8" x2="525.9" y2="168.8" stroke="#000" stroke-width="1"/>
<text x="518.4" y="173" font-size="11" text-anchor="end" textLength="5.62" lengthAdjust="spacingAndGlyphs" >5</text>
<text x="527.1" y="154.6" font-size="11" text-anchor="start" textLength="20.6" lengthAdjust="spacingAndGlyphs" >×10</text>
<text x="548.7" y="150.5" font-size="7.8" text-anchor="start" textLength="9.6" lengthAdjust="spacingAndGlyphs" >−1</text>
<text x="555.6" y="244.6" font-size="11" font-family='"Liberation Sans", sans-serif'><tspan font-style="italic">z</tspan></text><text x="562.4" y="240.2" font-size="6.4">η</text><text x="562.2" y="247.2" font-size="7">τ</text><text x="570.6" y="244.6" font-size="11" textLength="37.5" lengthAdjust="spacingAndGlyphs">for all <tspan font-style="italic">τ</tspan></text>
<line x1="26.5" y1="322.3" x2="306.3" y2="322.3" stroke="#000" stroke-opacity="0.62" stroke-width="1.4" stroke-dasharray="5.6 2.6"/>
<polyline points="26.5,300.71 29.45,297.44 32.39,296.11 35.34,293.9 38.28,292.18 41.23,291.09 44.17,289.49 47.12,289.08 50.06,288.39 53.01,288.9 55.95,287.91 58.9,287.59 61.84,287.08 64.79,286.44 67.73,285.78 70.68,284.81 73.62,284.14 76.57,283.26 79.51,282.86 82.46,282.55 85.41,281.77 88.35,281.17 91.3,279.95 94.24,279.08 97.19,280.52 100.13,280.54 103.08,280.15 106.02,278.42 108.97,277.11 111.91,275.94 114.86,274.16 117.8,273.44 120.75,272.93 123.69,272.96 126.64,272.85 129.58,272.61 132.53,271.91 135.47,273.11 138.42,273.42 141.37,274.17 144.31,274.93 147.26,275.28 150.2,274.99 153.15,274.99 156.09,275.88 159.04,275.99 161.98,276.05 164.93,275.28 167.87,275.24 170.82,275.89 173.76,275.89 176.71,275.89 179.65,275.73 182.6,275.19 185.54,274.49 188.49,273.86 191.43,274.03 194.38,273.71 197.33,274.62 200.27,273.93 203.22,272.81 206.16,273.66 209.11,273.65 212.05,273.44 215,272.26 217.94,273.08 220.89,273.99 223.83,274.22 226.78,273.22 229.72,273.03 232.67,273.57 235.61,272.36 238.56,272 241.5,271.3 244.45,271.69 247.39,271.34 250.34,271.68 253.29,270.96 256.23,270.88 259.18,270.62 262.12,271.3 265.07,270.6 268.01,271.02 270.96,270.96 273.9,269.95 276.85,270.69 279.79,271.4 282.74,271.4 285.68,272.16 288.63,272.12 291.57,273.01 294.52,273.8 297.46,274.72 300.41,275.62 303.35,276.28 306.3,277.27" fill="none" stroke="#1f77b4" stroke-width="1.6" stroke-linejoin="round"/>
<rect x="26.5" y="267.6" width="279.8" height="57.3" fill="none" stroke="#000" stroke-width="1.05"/>
<line x1="26.5" y1="324.9" x2="26.5" y2="328.4" stroke="#000" stroke-width="1"/>
<text x="26.5" y="340.4" font-size="11" text-anchor="middle" textLength="5.62" lengthAdjust="spacingAndGlyphs" >0</text>
<line x1="85.41" y1="324.9" x2="85.41" y2="328.4" stroke="#000" stroke-width="1"/>
<text x="85.41" y="340.4" font-size="11" text-anchor="middle" textLength="12.23" lengthAdjust="spacingAndGlyphs" >20</text>
<line x1="144.31" y1="324.9" x2="144.31" y2="328.4" stroke="#000" stroke-width="1"/>
<text x="144.31" y="340.4" font-size="11" text-anchor="middle" textLength="12.23" lengthAdjust="spacingAndGlyphs" >40</text>
<line x1="203.22" y1="324.9" x2="203.22" y2="328.4" stroke="#000" stroke-width="1"/>
<text x="203.22" y="340.4" font-size="11" text-anchor="middle" textLength="12.23" lengthAdjust="spacingAndGlyphs" >60</text>
<line x1="262.12" y1="324.9" x2="262.12" y2="328.4" stroke="#000" stroke-width="1"/>
<text x="262.12" y="340.4" font-size="11" text-anchor="middle" textLength="12.23" lengthAdjust="spacingAndGlyphs" >80</text>
<line x1="23" y1="322.3" x2="26.5" y2="322.3" stroke="#000" stroke-width="1"/>
<text x="19" y="326.5" font-size="11" text-anchor="end" textLength="5.62" lengthAdjust="spacingAndGlyphs" >0</text>
<line x1="23" y1="285.6" x2="26.5" y2="285.6" stroke="#000" stroke-width="1"/>
<text x="19" y="289.8" font-size="11" text-anchor="end" textLength="5.62" lengthAdjust="spacingAndGlyphs" >1</text>
<text x="27.4" y="264.2" font-size="11" text-anchor="start" textLength="20.6" lengthAdjust="spacingAndGlyphs" >×10</text>
<text x="49" y="260.1" font-size="7.8" text-anchor="start" textLength="9.6" lengthAdjust="spacingAndGlyphs" >−1</text>
<text transform="translate(7.8,303.2) rotate(-90)" font-size="11.6" textLength="12.4" lengthAdjust="spacingAndGlyphs">KL</text>
<text x="155.4" y="354.5" font-size="12.3" text-anchor="start" textLength="22.7" lengthAdjust="spacingAndGlyphs" ><tspan font-style="italic">τ</tspan>(h)</text>
<line x1="359.5" y1="322.3" x2="639" y2="322.3" stroke="#000" stroke-opacity="0.62" stroke-width="1.4" stroke-dasharray="5.6 2.6"/>
<polyline points="359.5,317.4 362.44,314.08 365.38,312.03 368.33,310.39 371.27,309.08 374.21,307.95 377.15,306 380.09,305.43 383.04,305.43 385.98,305.74 388.92,304.13 391.86,302.67 394.81,301.43 397.75,301.66 400.69,302.57 403.63,300.57 406.57,298.12 409.52,297.16 412.46,295.59 415.4,294.22 418.34,292.38 421.28,292.57 424.23,292.27 427.17,289.83 430.11,288.7 433.05,287.96 435.99,286.94 438.94,284.77 441.88,284.91 444.82,282.99 447.76,281.81 450.71,280.84 453.65,280.51 456.59,279.85 459.53,279.65 462.47,278.7 465.42,278.61 468.36,278.82 471.3,280.39 474.24,281.65 477.18,280.16 480.13,279.99 483.07,279.88 486.01,278.41 488.95,279.87 491.89,280.22 494.84,280.72 497.78,279.14 500.72,278.04 503.66,277.17 506.61,276.51 509.55,277.6 512.49,277.16 515.43,276.37 518.37,277.17 521.32,275.94 524.26,275.57 527.2,275.62 530.14,274.9 533.08,273.3 536.03,273.6 538.97,273.68 541.91,273.6 544.85,274.69 547.79,273.11 550.74,274.22 553.68,274.23 556.62,273.96 559.56,273.23 562.51,273.49 565.45,272.77 568.39,272.56 571.33,271.21 574.27,270.83 577.22,270.66 580.16,270.28 583.1,270.21 586.04,270.8 588.98,271.04 591.93,270.31 594.87,271.54 597.81,270.56 600.75,270.28 603.69,271.18 606.64,271.02 609.58,272.17 612.52,272.78 615.46,273.04 618.41,273.64 621.35,274.66 624.29,275.11 627.23,274.73 630.17,276.47 633.12,278.35 636.06,278.47 639,280.56" fill="none" stroke="#1f77b4" stroke-width="1.6" stroke-linejoin="round"/>
<rect x="359.5" y="267.6" width="279.5" height="57.3" fill="none" stroke="#000" stroke-width="1.05"/>
<line x1="359.5" y1="324.9" x2="359.5" y2="328.4" stroke="#000" stroke-width="1"/>
<text x="359.5" y="340.4" font-size="11" text-anchor="middle" textLength="5.62" lengthAdjust="spacingAndGlyphs" >0</text>
<line x1="418.34" y1="324.9" x2="418.34" y2="328.4" stroke="#000" stroke-width="1"/>
<text x="418.34" y="340.4" font-size="11" text-anchor="middle" textLength="12.23" lengthAdjust="spacingAndGlyphs" >20</text>
<line x1="477.18" y1="324.9" x2="477.18" y2="328.4" stroke="#000" stroke-width="1"/>
<text x="477.18" y="340.4" font-size="11" text-anchor="middle" textLength="12.23" lengthAdjust="spacingAndGlyphs" >40</text>
<line x1="536.03" y1="324.9" x2="536.03" y2="328.4" stroke="#000" stroke-width="1"/>
<text x="536.03" y="340.4" font-size="11" text-anchor="middle" textLength="12.23" lengthAdjust="spacingAndGlyphs" >60</text>
<line x1="594.87" y1="324.9" x2="594.87" y2="328.4" stroke="#000" stroke-width="1"/>
<text x="594.87" y="340.4" font-size="11" text-anchor="middle" textLength="12.23" lengthAdjust="spacingAndGlyphs" >80</text>
<line x1="356" y1="322.3" x2="359.5" y2="322.3" stroke="#000" stroke-width="1"/>
<text x="352" y="326.5" font-size="11" text-anchor="end" textLength="15.54" lengthAdjust="spacingAndGlyphs" >1.0</text>
<line x1="356" y1="269" x2="359.5" y2="269" stroke="#000" stroke-width="1"/>
<text x="352" y="273.2" font-size="11" text-anchor="end" textLength="15.54" lengthAdjust="spacingAndGlyphs" >1.5</text>
<text transform="translate(330.3,325.4) rotate(-90)" font-size="11.5"><tspan font-style="italic">z</tspan></text><text transform="translate(333.6,319) rotate(-90)" font-size="8">τ</text><text transform="translate(330.2,312.2) rotate(-90)" font-size="11.5" textLength="45.6" lengthAdjust="spacingAndGlyphs">variance</text>
<text x="486" y="354.5" font-size="12.3" text-anchor="start" textLength="27.2" lengthAdjust="spacingAndGlyphs" ><tspan font-style="italic">τ</tspan> (h)</text>
</svg>
</body></html>
